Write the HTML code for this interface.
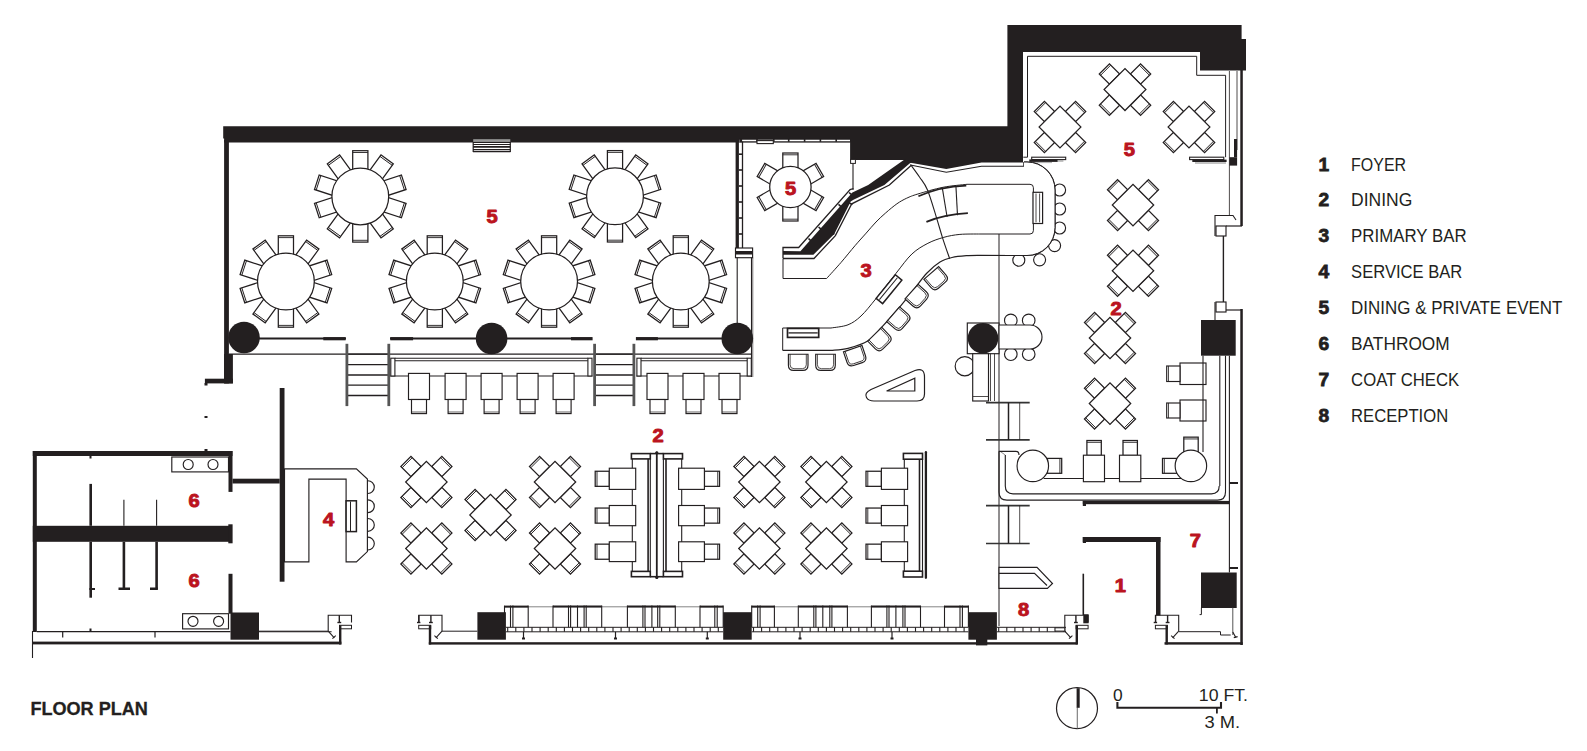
<!DOCTYPE html>
<html><head><meta charset="utf-8"><title>Floor Plan</title>
<style>
html,body{margin:0;padding:0;background:#fff;}
body{width:1587px;height:751px;overflow:hidden;}
svg{display:block;font-family:"Liberation Sans",sans-serif;}
</style></head><body>
<svg width="1587" height="751" viewBox="0 0 1587 751">
<rect x="0" y="0" width="1587" height="751" fill="#fff"/>
<polygon points="223.2,126.2 1007.4,126.2 1007.4,25 1241.6,25 1241.6,39 1246,39 1246,70.6 1200,70.6 1200,52 1023,52 1023,162.5 981.5,162.5 946.3,168.9 910.4,162.8 904.5,159.9 850.1,159.9 850.1,142.6 224.1,142.6 224.1,138.6 223.2,138.6" fill="#231f20"/>
<polyline points="910.4,165 946.3,172.2 981.5,166.3 1023.8,166.3 1023.8,162" fill="none" stroke="#231f20" stroke-width="1.1"/>
<rect x="224.1" y="140" width="4.8" height="243.4" fill="#231f20" />
<rect x="224.1" y="354" width="8.8" height="29.4" fill="#231f20" />
<rect x="204.9" y="378.7" width="28" height="4.7" fill="#231f20" />
<rect x="204.5" y="383" width="3" height="2.5" fill="#231f20" />
<rect x="204.5" y="416" width="3" height="2" fill="#231f20" />
<rect x="204.5" y="449" width="3" height="3" fill="#231f20" />
<polyline points="1023.3,157.2 1027.5,157.2 1027.5,56.3 1196.7,56.3 1196.7,75.3 1225.6,75.3 1225.6,157.2" fill="none" stroke="#231f20" stroke-width="1"/>
<rect x="1240.3" y="70" width="2.5" height="156" fill="#231f20" />
<line x1="1237" y1="71" x2="1237" y2="150" stroke="#231f20" stroke-width="0.8" />
<line x1="1229.4" y1="71" x2="1229.4" y2="215" stroke="#231f20" stroke-width="0.8" />
<rect x="1234" y="139" width="3.1" height="18.2" fill="#231f20" />
<rect x="1229.4" y="157.2" width="7.7" height="8.4" fill="#231f20" />
<polyline points="1215,236 1215,215.5 1233,215.5 1236,220" fill="none" stroke="#231f20" stroke-width="1.1"/>
<polyline points="1226,226 1242,226" fill="none" stroke="#231f20" stroke-width="1.2"/>
<rect x="1216" y="226" width="10" height="10" fill="none" stroke="#231f20" stroke-width="1.15" />
<line x1="1223.4" y1="236" x2="1223.4" y2="302" stroke="#231f20" stroke-width="1.4" />
<rect x="1216" y="302" width="10" height="10" fill="none" stroke="#231f20" stroke-width="1.15" />
<polyline points="1215,302 1215,320" fill="none" stroke="#231f20" stroke-width="1.1"/>
<polyline points="1226,310 1242,310" fill="none" stroke="#231f20" stroke-width="1.2"/>
<rect x="1240.3" y="309" width="2.5" height="336" fill="#231f20" />
<rect x="1031.7" y="157.2" width="34" height="2.4" fill="#fff" stroke="#231f20" stroke-width="1.1" />
<rect x="1029.3" y="159.4" width="28.5" height="2.5" fill="#231f20" />
<line x1="1057" y1="161" x2="1063.4" y2="161" stroke="#888" stroke-width="1" />
<line x1="1031" y1="162.6" x2="1052" y2="162.6" stroke="#999" stroke-width="0.8" />
<rect x="1189.6" y="157.2" width="34.2" height="2.4" fill="#fff" stroke="#231f20" stroke-width="1.1" />
<rect x="1192.3" y="159.6" width="34.3" height="2.4" fill="#231f20" />
<line x1="1195" y1="163" x2="1226" y2="163" stroke="#888" stroke-width="1" />
<rect x="739.4" y="139.4" width="110.6" height="3.2" fill="#fff" />
<rect x="473.2" y="139.2" width="37.1" height="2.7" fill="#999" />
<rect x="473.2" y="142.4" width="37.1" height="9.2" fill="#fff" />
<line x1="473" y1="142.5" x2="510.5" y2="142.5" stroke="#231f20" stroke-width="1.1" />
<line x1="473" y1="144.5" x2="510.5" y2="144.5" stroke="#231f20" stroke-width="1.1" />
<line x1="473" y1="146.9" x2="510.5" y2="146.9" stroke="#231f20" stroke-width="1.6" />
<line x1="473" y1="149.5" x2="510.5" y2="149.5" stroke="#231f20" stroke-width="1.1" />
<line x1="473" y1="151.5" x2="510.5" y2="151.5" stroke="#231f20" stroke-width="1.3" />
<line x1="473.2" y1="142" x2="473.2" y2="152" stroke="#231f20" stroke-width="1.2" />
<line x1="510.3" y1="142" x2="510.3" y2="152" stroke="#231f20" stroke-width="1.2" />
<rect x="735.6" y="141" width="3.3" height="116.7" fill="#231f20" />
<line x1="742.5" y1="141.5" x2="742.5" y2="248" stroke="#231f20" stroke-width="1.3" />
<rect x="738.9" y="153.4" width="3.2" height="1.6" fill="#231f20" />
<rect x="738.9" y="169.2" width="3.2" height="1.6" fill="#231f20" />
<rect x="738.9" y="185.2" width="3.2" height="1.6" fill="#231f20" />
<rect x="738.9" y="201.2" width="3.2" height="1.6" fill="#231f20" />
<rect x="738.9" y="217.2" width="3.2" height="1.6" fill="#231f20" />
<rect x="738.9" y="233.2" width="3.2" height="1.6" fill="#231f20" />
<rect x="735.5" y="248" width="17.1" height="9.7" fill="#fff" stroke="#231f20" stroke-width="1.15" />
<rect x="736" y="251" width="16" height="3.5" fill="#231f20" />
<line x1="737.2" y1="257.7" x2="737.2" y2="325" stroke="#231f20" stroke-width="1.1" />
<line x1="751.5" y1="257.7" x2="751.5" y2="377" stroke="#231f20" stroke-width="1.1" />
<line x1="752.8" y1="257.7" x2="752.8" y2="377" stroke="#231f20" stroke-width="0.6" />
<g transform="translate(360.3,196.4) rotate(0)">
<rect x="-7.6" y="-45.7" width="15.2" height="21.3" fill="#fff" stroke="#231f20" stroke-width="1.25" />
<line x1="-7.6" y1="-43.9" x2="7.6" y2="-43.9" stroke="#231f20" stroke-width="0.9" />
</g>
<g transform="translate(360.3,196.4) rotate(36)">
<rect x="-7.6" y="-45.7" width="15.2" height="21.3" fill="#fff" stroke="#231f20" stroke-width="1.25" />
<line x1="-7.6" y1="-43.9" x2="7.6" y2="-43.9" stroke="#231f20" stroke-width="0.9" />
</g>
<g transform="translate(360.3,196.4) rotate(72)">
<rect x="-7.6" y="-45.7" width="15.2" height="21.3" fill="#fff" stroke="#231f20" stroke-width="1.25" />
<line x1="-7.6" y1="-43.9" x2="7.6" y2="-43.9" stroke="#231f20" stroke-width="0.9" />
</g>
<g transform="translate(360.3,196.4) rotate(108)">
<rect x="-7.6" y="-45.7" width="15.2" height="21.3" fill="#fff" stroke="#231f20" stroke-width="1.25" />
<line x1="-7.6" y1="-43.9" x2="7.6" y2="-43.9" stroke="#231f20" stroke-width="0.9" />
</g>
<g transform="translate(360.3,196.4) rotate(144)">
<rect x="-7.6" y="-45.7" width="15.2" height="21.3" fill="#fff" stroke="#231f20" stroke-width="1.25" />
<line x1="-7.6" y1="-43.9" x2="7.6" y2="-43.9" stroke="#231f20" stroke-width="0.9" />
</g>
<g transform="translate(360.3,196.4) rotate(180)">
<rect x="-7.6" y="-45.7" width="15.2" height="21.3" fill="#fff" stroke="#231f20" stroke-width="1.25" />
<line x1="-7.6" y1="-43.9" x2="7.6" y2="-43.9" stroke="#231f20" stroke-width="0.9" />
</g>
<g transform="translate(360.3,196.4) rotate(216)">
<rect x="-7.6" y="-45.7" width="15.2" height="21.3" fill="#fff" stroke="#231f20" stroke-width="1.25" />
<line x1="-7.6" y1="-43.9" x2="7.6" y2="-43.9" stroke="#231f20" stroke-width="0.9" />
</g>
<g transform="translate(360.3,196.4) rotate(252)">
<rect x="-7.6" y="-45.7" width="15.2" height="21.3" fill="#fff" stroke="#231f20" stroke-width="1.25" />
<line x1="-7.6" y1="-43.9" x2="7.6" y2="-43.9" stroke="#231f20" stroke-width="0.9" />
</g>
<g transform="translate(360.3,196.4) rotate(288)">
<rect x="-7.6" y="-45.7" width="15.2" height="21.3" fill="#fff" stroke="#231f20" stroke-width="1.25" />
<line x1="-7.6" y1="-43.9" x2="7.6" y2="-43.9" stroke="#231f20" stroke-width="0.9" />
</g>
<g transform="translate(360.3,196.4) rotate(324)">
<rect x="-7.6" y="-45.7" width="15.2" height="21.3" fill="#fff" stroke="#231f20" stroke-width="1.25" />
<line x1="-7.6" y1="-43.9" x2="7.6" y2="-43.9" stroke="#231f20" stroke-width="0.9" />
</g>
<circle cx="360.3" cy="196.4" r="28.4" fill="#fff" stroke="#231f20" stroke-width="1.25"/>
<g transform="translate(615,196.3) rotate(0)">
<rect x="-7.6" y="-45.7" width="15.2" height="21.3" fill="#fff" stroke="#231f20" stroke-width="1.25" />
<line x1="-7.6" y1="-43.9" x2="7.6" y2="-43.9" stroke="#231f20" stroke-width="0.9" />
</g>
<g transform="translate(615,196.3) rotate(36)">
<rect x="-7.6" y="-45.7" width="15.2" height="21.3" fill="#fff" stroke="#231f20" stroke-width="1.25" />
<line x1="-7.6" y1="-43.9" x2="7.6" y2="-43.9" stroke="#231f20" stroke-width="0.9" />
</g>
<g transform="translate(615,196.3) rotate(72)">
<rect x="-7.6" y="-45.7" width="15.2" height="21.3" fill="#fff" stroke="#231f20" stroke-width="1.25" />
<line x1="-7.6" y1="-43.9" x2="7.6" y2="-43.9" stroke="#231f20" stroke-width="0.9" />
</g>
<g transform="translate(615,196.3) rotate(108)">
<rect x="-7.6" y="-45.7" width="15.2" height="21.3" fill="#fff" stroke="#231f20" stroke-width="1.25" />
<line x1="-7.6" y1="-43.9" x2="7.6" y2="-43.9" stroke="#231f20" stroke-width="0.9" />
</g>
<g transform="translate(615,196.3) rotate(144)">
<rect x="-7.6" y="-45.7" width="15.2" height="21.3" fill="#fff" stroke="#231f20" stroke-width="1.25" />
<line x1="-7.6" y1="-43.9" x2="7.6" y2="-43.9" stroke="#231f20" stroke-width="0.9" />
</g>
<g transform="translate(615,196.3) rotate(180)">
<rect x="-7.6" y="-45.7" width="15.2" height="21.3" fill="#fff" stroke="#231f20" stroke-width="1.25" />
<line x1="-7.6" y1="-43.9" x2="7.6" y2="-43.9" stroke="#231f20" stroke-width="0.9" />
</g>
<g transform="translate(615,196.3) rotate(216)">
<rect x="-7.6" y="-45.7" width="15.2" height="21.3" fill="#fff" stroke="#231f20" stroke-width="1.25" />
<line x1="-7.6" y1="-43.9" x2="7.6" y2="-43.9" stroke="#231f20" stroke-width="0.9" />
</g>
<g transform="translate(615,196.3) rotate(252)">
<rect x="-7.6" y="-45.7" width="15.2" height="21.3" fill="#fff" stroke="#231f20" stroke-width="1.25" />
<line x1="-7.6" y1="-43.9" x2="7.6" y2="-43.9" stroke="#231f20" stroke-width="0.9" />
</g>
<g transform="translate(615,196.3) rotate(288)">
<rect x="-7.6" y="-45.7" width="15.2" height="21.3" fill="#fff" stroke="#231f20" stroke-width="1.25" />
<line x1="-7.6" y1="-43.9" x2="7.6" y2="-43.9" stroke="#231f20" stroke-width="0.9" />
</g>
<g transform="translate(615,196.3) rotate(324)">
<rect x="-7.6" y="-45.7" width="15.2" height="21.3" fill="#fff" stroke="#231f20" stroke-width="1.25" />
<line x1="-7.6" y1="-43.9" x2="7.6" y2="-43.9" stroke="#231f20" stroke-width="0.9" />
</g>
<circle cx="615" cy="196.3" r="28.4" fill="#fff" stroke="#231f20" stroke-width="1.25"/>
<g transform="translate(285.9,281.5) rotate(0)">
<rect x="-7.6" y="-45.7" width="15.2" height="21.3" fill="#fff" stroke="#231f20" stroke-width="1.25" />
<line x1="-7.6" y1="-43.9" x2="7.6" y2="-43.9" stroke="#231f20" stroke-width="0.9" />
</g>
<g transform="translate(285.9,281.5) rotate(36)">
<rect x="-7.6" y="-45.7" width="15.2" height="21.3" fill="#fff" stroke="#231f20" stroke-width="1.25" />
<line x1="-7.6" y1="-43.9" x2="7.6" y2="-43.9" stroke="#231f20" stroke-width="0.9" />
</g>
<g transform="translate(285.9,281.5) rotate(72)">
<rect x="-7.6" y="-45.7" width="15.2" height="21.3" fill="#fff" stroke="#231f20" stroke-width="1.25" />
<line x1="-7.6" y1="-43.9" x2="7.6" y2="-43.9" stroke="#231f20" stroke-width="0.9" />
</g>
<g transform="translate(285.9,281.5) rotate(108)">
<rect x="-7.6" y="-45.7" width="15.2" height="21.3" fill="#fff" stroke="#231f20" stroke-width="1.25" />
<line x1="-7.6" y1="-43.9" x2="7.6" y2="-43.9" stroke="#231f20" stroke-width="0.9" />
</g>
<g transform="translate(285.9,281.5) rotate(144)">
<rect x="-7.6" y="-45.7" width="15.2" height="21.3" fill="#fff" stroke="#231f20" stroke-width="1.25" />
<line x1="-7.6" y1="-43.9" x2="7.6" y2="-43.9" stroke="#231f20" stroke-width="0.9" />
</g>
<g transform="translate(285.9,281.5) rotate(180)">
<rect x="-7.6" y="-45.7" width="15.2" height="21.3" fill="#fff" stroke="#231f20" stroke-width="1.25" />
<line x1="-7.6" y1="-43.9" x2="7.6" y2="-43.9" stroke="#231f20" stroke-width="0.9" />
</g>
<g transform="translate(285.9,281.5) rotate(216)">
<rect x="-7.6" y="-45.7" width="15.2" height="21.3" fill="#fff" stroke="#231f20" stroke-width="1.25" />
<line x1="-7.6" y1="-43.9" x2="7.6" y2="-43.9" stroke="#231f20" stroke-width="0.9" />
</g>
<g transform="translate(285.9,281.5) rotate(252)">
<rect x="-7.6" y="-45.7" width="15.2" height="21.3" fill="#fff" stroke="#231f20" stroke-width="1.25" />
<line x1="-7.6" y1="-43.9" x2="7.6" y2="-43.9" stroke="#231f20" stroke-width="0.9" />
</g>
<g transform="translate(285.9,281.5) rotate(288)">
<rect x="-7.6" y="-45.7" width="15.2" height="21.3" fill="#fff" stroke="#231f20" stroke-width="1.25" />
<line x1="-7.6" y1="-43.9" x2="7.6" y2="-43.9" stroke="#231f20" stroke-width="0.9" />
</g>
<g transform="translate(285.9,281.5) rotate(324)">
<rect x="-7.6" y="-45.7" width="15.2" height="21.3" fill="#fff" stroke="#231f20" stroke-width="1.25" />
<line x1="-7.6" y1="-43.9" x2="7.6" y2="-43.9" stroke="#231f20" stroke-width="0.9" />
</g>
<circle cx="285.9" cy="281.5" r="28.4" fill="#fff" stroke="#231f20" stroke-width="1.25"/>
<g transform="translate(434.8,281.5) rotate(0)">
<rect x="-7.6" y="-45.7" width="15.2" height="21.3" fill="#fff" stroke="#231f20" stroke-width="1.25" />
<line x1="-7.6" y1="-43.9" x2="7.6" y2="-43.9" stroke="#231f20" stroke-width="0.9" />
</g>
<g transform="translate(434.8,281.5) rotate(36)">
<rect x="-7.6" y="-45.7" width="15.2" height="21.3" fill="#fff" stroke="#231f20" stroke-width="1.25" />
<line x1="-7.6" y1="-43.9" x2="7.6" y2="-43.9" stroke="#231f20" stroke-width="0.9" />
</g>
<g transform="translate(434.8,281.5) rotate(72)">
<rect x="-7.6" y="-45.7" width="15.2" height="21.3" fill="#fff" stroke="#231f20" stroke-width="1.25" />
<line x1="-7.6" y1="-43.9" x2="7.6" y2="-43.9" stroke="#231f20" stroke-width="0.9" />
</g>
<g transform="translate(434.8,281.5) rotate(108)">
<rect x="-7.6" y="-45.7" width="15.2" height="21.3" fill="#fff" stroke="#231f20" stroke-width="1.25" />
<line x1="-7.6" y1="-43.9" x2="7.6" y2="-43.9" stroke="#231f20" stroke-width="0.9" />
</g>
<g transform="translate(434.8,281.5) rotate(144)">
<rect x="-7.6" y="-45.7" width="15.2" height="21.3" fill="#fff" stroke="#231f20" stroke-width="1.25" />
<line x1="-7.6" y1="-43.9" x2="7.6" y2="-43.9" stroke="#231f20" stroke-width="0.9" />
</g>
<g transform="translate(434.8,281.5) rotate(180)">
<rect x="-7.6" y="-45.7" width="15.2" height="21.3" fill="#fff" stroke="#231f20" stroke-width="1.25" />
<line x1="-7.6" y1="-43.9" x2="7.6" y2="-43.9" stroke="#231f20" stroke-width="0.9" />
</g>
<g transform="translate(434.8,281.5) rotate(216)">
<rect x="-7.6" y="-45.7" width="15.2" height="21.3" fill="#fff" stroke="#231f20" stroke-width="1.25" />
<line x1="-7.6" y1="-43.9" x2="7.6" y2="-43.9" stroke="#231f20" stroke-width="0.9" />
</g>
<g transform="translate(434.8,281.5) rotate(252)">
<rect x="-7.6" y="-45.7" width="15.2" height="21.3" fill="#fff" stroke="#231f20" stroke-width="1.25" />
<line x1="-7.6" y1="-43.9" x2="7.6" y2="-43.9" stroke="#231f20" stroke-width="0.9" />
</g>
<g transform="translate(434.8,281.5) rotate(288)">
<rect x="-7.6" y="-45.7" width="15.2" height="21.3" fill="#fff" stroke="#231f20" stroke-width="1.25" />
<line x1="-7.6" y1="-43.9" x2="7.6" y2="-43.9" stroke="#231f20" stroke-width="0.9" />
</g>
<g transform="translate(434.8,281.5) rotate(324)">
<rect x="-7.6" y="-45.7" width="15.2" height="21.3" fill="#fff" stroke="#231f20" stroke-width="1.25" />
<line x1="-7.6" y1="-43.9" x2="7.6" y2="-43.9" stroke="#231f20" stroke-width="0.9" />
</g>
<circle cx="434.8" cy="281.5" r="28.4" fill="#fff" stroke="#231f20" stroke-width="1.25"/>
<g transform="translate(549.1,281.5) rotate(0)">
<rect x="-7.6" y="-45.7" width="15.2" height="21.3" fill="#fff" stroke="#231f20" stroke-width="1.25" />
<line x1="-7.6" y1="-43.9" x2="7.6" y2="-43.9" stroke="#231f20" stroke-width="0.9" />
</g>
<g transform="translate(549.1,281.5) rotate(36)">
<rect x="-7.6" y="-45.7" width="15.2" height="21.3" fill="#fff" stroke="#231f20" stroke-width="1.25" />
<line x1="-7.6" y1="-43.9" x2="7.6" y2="-43.9" stroke="#231f20" stroke-width="0.9" />
</g>
<g transform="translate(549.1,281.5) rotate(72)">
<rect x="-7.6" y="-45.7" width="15.2" height="21.3" fill="#fff" stroke="#231f20" stroke-width="1.25" />
<line x1="-7.6" y1="-43.9" x2="7.6" y2="-43.9" stroke="#231f20" stroke-width="0.9" />
</g>
<g transform="translate(549.1,281.5) rotate(108)">
<rect x="-7.6" y="-45.7" width="15.2" height="21.3" fill="#fff" stroke="#231f20" stroke-width="1.25" />
<line x1="-7.6" y1="-43.9" x2="7.6" y2="-43.9" stroke="#231f20" stroke-width="0.9" />
</g>
<g transform="translate(549.1,281.5) rotate(144)">
<rect x="-7.6" y="-45.7" width="15.2" height="21.3" fill="#fff" stroke="#231f20" stroke-width="1.25" />
<line x1="-7.6" y1="-43.9" x2="7.6" y2="-43.9" stroke="#231f20" stroke-width="0.9" />
</g>
<g transform="translate(549.1,281.5) rotate(180)">
<rect x="-7.6" y="-45.7" width="15.2" height="21.3" fill="#fff" stroke="#231f20" stroke-width="1.25" />
<line x1="-7.6" y1="-43.9" x2="7.6" y2="-43.9" stroke="#231f20" stroke-width="0.9" />
</g>
<g transform="translate(549.1,281.5) rotate(216)">
<rect x="-7.6" y="-45.7" width="15.2" height="21.3" fill="#fff" stroke="#231f20" stroke-width="1.25" />
<line x1="-7.6" y1="-43.9" x2="7.6" y2="-43.9" stroke="#231f20" stroke-width="0.9" />
</g>
<g transform="translate(549.1,281.5) rotate(252)">
<rect x="-7.6" y="-45.7" width="15.2" height="21.3" fill="#fff" stroke="#231f20" stroke-width="1.25" />
<line x1="-7.6" y1="-43.9" x2="7.6" y2="-43.9" stroke="#231f20" stroke-width="0.9" />
</g>
<g transform="translate(549.1,281.5) rotate(288)">
<rect x="-7.6" y="-45.7" width="15.2" height="21.3" fill="#fff" stroke="#231f20" stroke-width="1.25" />
<line x1="-7.6" y1="-43.9" x2="7.6" y2="-43.9" stroke="#231f20" stroke-width="0.9" />
</g>
<g transform="translate(549.1,281.5) rotate(324)">
<rect x="-7.6" y="-45.7" width="15.2" height="21.3" fill="#fff" stroke="#231f20" stroke-width="1.25" />
<line x1="-7.6" y1="-43.9" x2="7.6" y2="-43.9" stroke="#231f20" stroke-width="0.9" />
</g>
<circle cx="549.1" cy="281.5" r="28.4" fill="#fff" stroke="#231f20" stroke-width="1.25"/>
<g transform="translate(680.8,281.5) rotate(0)">
<rect x="-7.6" y="-45.7" width="15.2" height="21.3" fill="#fff" stroke="#231f20" stroke-width="1.25" />
<line x1="-7.6" y1="-43.9" x2="7.6" y2="-43.9" stroke="#231f20" stroke-width="0.9" />
</g>
<g transform="translate(680.8,281.5) rotate(36)">
<rect x="-7.6" y="-45.7" width="15.2" height="21.3" fill="#fff" stroke="#231f20" stroke-width="1.25" />
<line x1="-7.6" y1="-43.9" x2="7.6" y2="-43.9" stroke="#231f20" stroke-width="0.9" />
</g>
<g transform="translate(680.8,281.5) rotate(72)">
<rect x="-7.6" y="-45.7" width="15.2" height="21.3" fill="#fff" stroke="#231f20" stroke-width="1.25" />
<line x1="-7.6" y1="-43.9" x2="7.6" y2="-43.9" stroke="#231f20" stroke-width="0.9" />
</g>
<g transform="translate(680.8,281.5) rotate(108)">
<rect x="-7.6" y="-45.7" width="15.2" height="21.3" fill="#fff" stroke="#231f20" stroke-width="1.25" />
<line x1="-7.6" y1="-43.9" x2="7.6" y2="-43.9" stroke="#231f20" stroke-width="0.9" />
</g>
<g transform="translate(680.8,281.5) rotate(144)">
<rect x="-7.6" y="-45.7" width="15.2" height="21.3" fill="#fff" stroke="#231f20" stroke-width="1.25" />
<line x1="-7.6" y1="-43.9" x2="7.6" y2="-43.9" stroke="#231f20" stroke-width="0.9" />
</g>
<g transform="translate(680.8,281.5) rotate(180)">
<rect x="-7.6" y="-45.7" width="15.2" height="21.3" fill="#fff" stroke="#231f20" stroke-width="1.25" />
<line x1="-7.6" y1="-43.9" x2="7.6" y2="-43.9" stroke="#231f20" stroke-width="0.9" />
</g>
<g transform="translate(680.8,281.5) rotate(216)">
<rect x="-7.6" y="-45.7" width="15.2" height="21.3" fill="#fff" stroke="#231f20" stroke-width="1.25" />
<line x1="-7.6" y1="-43.9" x2="7.6" y2="-43.9" stroke="#231f20" stroke-width="0.9" />
</g>
<g transform="translate(680.8,281.5) rotate(252)">
<rect x="-7.6" y="-45.7" width="15.2" height="21.3" fill="#fff" stroke="#231f20" stroke-width="1.25" />
<line x1="-7.6" y1="-43.9" x2="7.6" y2="-43.9" stroke="#231f20" stroke-width="0.9" />
</g>
<g transform="translate(680.8,281.5) rotate(288)">
<rect x="-7.6" y="-45.7" width="15.2" height="21.3" fill="#fff" stroke="#231f20" stroke-width="1.25" />
<line x1="-7.6" y1="-43.9" x2="7.6" y2="-43.9" stroke="#231f20" stroke-width="0.9" />
</g>
<g transform="translate(680.8,281.5) rotate(324)">
<rect x="-7.6" y="-45.7" width="15.2" height="21.3" fill="#fff" stroke="#231f20" stroke-width="1.25" />
<line x1="-7.6" y1="-43.9" x2="7.6" y2="-43.9" stroke="#231f20" stroke-width="0.9" />
</g>
<circle cx="680.8" cy="281.5" r="28.4" fill="#fff" stroke="#231f20" stroke-width="1.25"/>
<line x1="244" y1="338.6" x2="346" y2="338.6" stroke="#231f20" stroke-width="2" />
<rect x="323.3" y="337.1" width="22.3" height="3.2" fill="#231f20" />
<rect x="390.3" y="337.1" width="22.8" height="3.2" fill="#231f20" />
<line x1="390" y1="338.6" x2="592" y2="338.6" stroke="#231f20" stroke-width="2" />
<line x1="636" y1="338.6" x2="737" y2="338.6" stroke="#231f20" stroke-width="2" />
<rect x="571" y="337.1" width="21.6" height="3.2" fill="#231f20" />
<rect x="635.9" y="337.1" width="22" height="3.2" fill="#231f20" />
<line x1="229" y1="354.1" x2="752" y2="354.1" stroke="#231f20" stroke-width="1.1" />
<circle cx="244" cy="337.5" r="15.8" fill="#231f20"/>
<circle cx="491.6" cy="338.5" r="15.8" fill="#231f20"/>
<circle cx="737.3" cy="338.5" r="15.8" fill="#231f20"/>
<line x1="346.9" y1="354.1" x2="388.8" y2="354.1" stroke="#231f20" stroke-width="1.3" />
<line x1="346.9" y1="364.7" x2="388.8" y2="364.7" stroke="#231f20" stroke-width="1.3" />
<line x1="346.9" y1="375" x2="388.8" y2="375" stroke="#231f20" stroke-width="1.3" />
<line x1="346.9" y1="385.2" x2="388.8" y2="385.2" stroke="#231f20" stroke-width="1.3" />
<line x1="346.9" y1="395.5" x2="388.8" y2="395.5" stroke="#231f20" stroke-width="1.3" />
<line x1="346.9" y1="343.8" x2="346.9" y2="406.1" stroke="#555" stroke-width="2.8" />
<line x1="388.8" y1="343.8" x2="388.8" y2="406.1" stroke="#555" stroke-width="2.8" />
<line x1="594.6" y1="354.1" x2="633.9" y2="354.1" stroke="#231f20" stroke-width="1.3" />
<line x1="594.6" y1="364.7" x2="633.9" y2="364.7" stroke="#231f20" stroke-width="1.3" />
<line x1="594.6" y1="375" x2="633.9" y2="375" stroke="#231f20" stroke-width="1.3" />
<line x1="594.6" y1="385.2" x2="633.9" y2="385.2" stroke="#231f20" stroke-width="1.3" />
<line x1="594.6" y1="395.5" x2="633.9" y2="395.5" stroke="#231f20" stroke-width="1.3" />
<line x1="594.6" y1="343.8" x2="594.6" y2="406.1" stroke="#555" stroke-width="2.8" />
<line x1="633.9" y1="343.8" x2="633.9" y2="406.1" stroke="#555" stroke-width="2.8" />
<line x1="390.3" y1="376" x2="592.5" y2="376" stroke="#231f20" stroke-width="1.1" />
<line x1="394.9" y1="358.2" x2="587.9" y2="358.2" stroke="#231f20" stroke-width="1.1" />
<line x1="394.9" y1="360.8" x2="587.9" y2="360.8" stroke="#231f20" stroke-width="1.1" />
<rect x="390.8" y="358.2" width="4.1" height="17.8" fill="#fff" stroke="#231f20" stroke-width="1.1" />
<rect x="587.9" y="358.2" width="4.1" height="17.8" fill="#fff" stroke="#231f20" stroke-width="1.1" />
<line x1="636.4" y1="376" x2="751.8" y2="376" stroke="#231f20" stroke-width="1.1" />
<line x1="641" y1="358.2" x2="747.2" y2="358.2" stroke="#231f20" stroke-width="1.1" />
<line x1="641" y1="360.8" x2="747.2" y2="360.8" stroke="#231f20" stroke-width="1.1" />
<rect x="636.9" y="358.2" width="4.1" height="17.8" fill="#fff" stroke="#231f20" stroke-width="1.1" />
<rect x="747.2" y="358.2" width="4.1" height="17.8" fill="#fff" stroke="#231f20" stroke-width="1.1" />
<rect x="408.5" y="373.4" width="21" height="26.1" fill="#fff" stroke="#231f20" stroke-width="1.15" />
<rect x="411.5" y="399.5" width="15" height="14.1" fill="#fff" stroke="#231f20" stroke-width="1.15" />
<line x1="411.5" y1="412" x2="426.5" y2="412" stroke="#231f20" stroke-width="0.7" />
<rect x="445.1" y="373.4" width="21" height="26.1" fill="#fff" stroke="#231f20" stroke-width="1.15" />
<rect x="448.1" y="399.5" width="15" height="14.1" fill="#fff" stroke="#231f20" stroke-width="1.15" />
<line x1="448.1" y1="412" x2="463.1" y2="412" stroke="#231f20" stroke-width="0.7" />
<rect x="481.1" y="373.4" width="21" height="26.1" fill="#fff" stroke="#231f20" stroke-width="1.15" />
<rect x="484.1" y="399.5" width="15" height="14.1" fill="#fff" stroke="#231f20" stroke-width="1.15" />
<line x1="484.1" y1="412" x2="499.1" y2="412" stroke="#231f20" stroke-width="0.7" />
<rect x="517.1" y="373.4" width="21" height="26.1" fill="#fff" stroke="#231f20" stroke-width="1.15" />
<rect x="520.1" y="399.5" width="15" height="14.1" fill="#fff" stroke="#231f20" stroke-width="1.15" />
<line x1="520.1" y1="412" x2="535.1" y2="412" stroke="#231f20" stroke-width="0.7" />
<rect x="553.1" y="373.4" width="21" height="26.1" fill="#fff" stroke="#231f20" stroke-width="1.15" />
<rect x="556.1" y="399.5" width="15" height="14.1" fill="#fff" stroke="#231f20" stroke-width="1.15" />
<line x1="556.1" y1="412" x2="571.1" y2="412" stroke="#231f20" stroke-width="0.7" />
<rect x="647" y="373.4" width="21" height="26.1" fill="#fff" stroke="#231f20" stroke-width="1.15" />
<rect x="650" y="399.5" width="15" height="14.1" fill="#fff" stroke="#231f20" stroke-width="1.15" />
<line x1="650" y1="412" x2="665" y2="412" stroke="#231f20" stroke-width="0.7" />
<rect x="683" y="373.4" width="21" height="26.1" fill="#fff" stroke="#231f20" stroke-width="1.15" />
<rect x="686" y="399.5" width="15" height="14.1" fill="#fff" stroke="#231f20" stroke-width="1.15" />
<line x1="686" y1="412" x2="701" y2="412" stroke="#231f20" stroke-width="0.7" />
<rect x="719" y="373.4" width="21" height="26.1" fill="#fff" stroke="#231f20" stroke-width="1.15" />
<rect x="722" y="399.5" width="15" height="14.1" fill="#fff" stroke="#231f20" stroke-width="1.15" />
<line x1="722" y1="412" x2="737" y2="412" stroke="#231f20" stroke-width="0.7" />
<text transform="translate(492.1,223.4) scale(1.15,1)" font-size="17.5" font-weight="bold" fill="#bb1420" text-anchor="middle" stroke="#bb1420" stroke-width="0.9" stroke-linejoin="round">5</text>
<rect x="739.4" y="138.9" width="110.6" height="0.7" fill="#231f20" />
<rect x="739.4" y="138.9" width="2.7" height="3.7" fill="#231f20" />
<line x1="742.1" y1="141.9" x2="850" y2="141.9" stroke="#231f20" stroke-width="1.3" />
<rect x="756.2" y="139" width="1.6" height="2.8" fill="#231f20" />
<rect x="773" y="139" width="1.6" height="2.8" fill="#231f20" />
<rect x="787.9" y="139" width="1.6" height="2.8" fill="#231f20" />
<rect x="803.8" y="139" width="1.6" height="2.8" fill="#231f20" />
<rect x="819.6" y="139" width="1.6" height="2.8" fill="#231f20" />
<rect x="835.4" y="139" width="1.6" height="2.8" fill="#231f20" />
<rect x="757" y="140.6" width="16.3" height="3" fill="#fff" stroke="#231f20" stroke-width="1.1" />
<line x1="853" y1="163.4" x2="853" y2="190" stroke="#231f20" stroke-width="1.1" />
<rect x="850.6" y="159.4" width="4.8" height="4" fill="#fff" stroke="#231f20" stroke-width="1" />
<g transform="translate(790.4,187) rotate(0)">
<rect x="-7.6" y="-34" width="15.2" height="17.3" fill="#fff" stroke="#231f20" stroke-width="1.25" />
<line x1="-7.6" y1="-32.2" x2="7.6" y2="-32.2" stroke="#231f20" stroke-width="0.9" />
</g>
<g transform="translate(790.4,187) rotate(60)">
<rect x="-7.6" y="-34" width="15.2" height="17.3" fill="#fff" stroke="#231f20" stroke-width="1.25" />
<line x1="-7.6" y1="-32.2" x2="7.6" y2="-32.2" stroke="#231f20" stroke-width="0.9" />
</g>
<g transform="translate(790.4,187) rotate(120)">
<rect x="-7.6" y="-34" width="15.2" height="17.3" fill="#fff" stroke="#231f20" stroke-width="1.25" />
<line x1="-7.6" y1="-32.2" x2="7.6" y2="-32.2" stroke="#231f20" stroke-width="0.9" />
</g>
<g transform="translate(790.4,187) rotate(180)">
<rect x="-7.6" y="-34" width="15.2" height="17.3" fill="#fff" stroke="#231f20" stroke-width="1.25" />
<line x1="-7.6" y1="-32.2" x2="7.6" y2="-32.2" stroke="#231f20" stroke-width="0.9" />
</g>
<g transform="translate(790.4,187) rotate(240)">
<rect x="-7.6" y="-34" width="15.2" height="17.3" fill="#fff" stroke="#231f20" stroke-width="1.25" />
<line x1="-7.6" y1="-32.2" x2="7.6" y2="-32.2" stroke="#231f20" stroke-width="0.9" />
</g>
<g transform="translate(790.4,187) rotate(300)">
<rect x="-7.6" y="-34" width="15.2" height="17.3" fill="#fff" stroke="#231f20" stroke-width="1.25" />
<line x1="-7.6" y1="-32.2" x2="7.6" y2="-32.2" stroke="#231f20" stroke-width="0.9" />
</g>
<circle cx="790.4" cy="187" r="20.7" fill="#fff" stroke="#231f20" stroke-width="1.25"/>
<text transform="translate(790.7,195.2) scale(1.15,1)" font-size="17.5" font-weight="bold" fill="#bb1420" text-anchor="middle" stroke="#bb1420" stroke-width="0.9" stroke-linejoin="round">5</text>
<polygon points="783,251 800.4,251.2 852.4,192.4 868.2,185 904.5,159.5 912,162 909.6,163.4 884.4,185 853.5,199.8 850.7,201.5 834.3,234.1 813.4,254.7 783,254.7" fill="#231f20"/>
<polyline points="783,258.5 783,247.5 798.7,247.5 850.1,189.6 853.5,188.5" fill="none" stroke="#231f20" stroke-width="1.3"/>
<polyline points="783,258.5 814,258.5 835.4,235.6 851.8,203.8 889.4,185 911,165.5" fill="none" stroke="#231f20" stroke-width="1.3"/>
<line x1="808.5" y1="238.5" x2="811" y2="240.8" stroke="#231f20" stroke-width="1.6" />
<line x1="818.6" y1="227" x2="821.2" y2="229.3" stroke="#231f20" stroke-width="1.6" />
<line x1="838.5" y1="204.4" x2="841" y2="206.6" stroke="#231f20" stroke-width="1.6" />
<line x1="849" y1="192.5" x2="851.6" y2="194.6" stroke="#231f20" stroke-width="1.6" />
<line x1="831.5" y1="232.5" x2="834.3" y2="234.4" stroke="#231f20" stroke-width="1.6" />
<line x1="849.4" y1="203" x2="852.4" y2="204.6" stroke="#231f20" stroke-width="1.6" />
<circle cx="1059.6" cy="190" r="6" fill="#fff" stroke="#231f20" stroke-width="1.15"/>
<circle cx="1059.6" cy="209" r="6" fill="#fff" stroke="#231f20" stroke-width="1.15"/>
<circle cx="1059.6" cy="228" r="6" fill="#fff" stroke="#231f20" stroke-width="1.15"/>
<circle cx="1054.6" cy="245.6" r="6" fill="#fff" stroke="#231f20" stroke-width="1.15"/>
<circle cx="1039.6" cy="259.8" r="6" fill="#fff" stroke="#231f20" stroke-width="1.15"/>
<circle cx="1018.8" cy="260.2" r="6" fill="#fff" stroke="#231f20" stroke-width="1.15"/>
<path d="M782.7,350.4 L831.3,350.4 C834.08,350.05 841.87,349.92 848,348.3 C854.13,346.68 862.43,344.27 868.1,340.7 C873.77,337.13 877.02,332.18 882,326.9 C886.98,321.62 892.83,315.07 898,309 C903.17,302.93 908.17,296.5 913,290.5 C917.83,284.5 922.5,277.75 927,273 C931.5,268.25 935.83,264.58 940,262 C944.17,259.42 947.58,258.55 952,257.5 C956.42,256.45 961.83,256.05 966.5,255.7 C971.17,255.35 977.75,255.45 980,255.4 L1027,255.5 A28,28 0 0 0 1055,227.5 L1055,190 A28,28 0 0 0 1027,162 L1024,162" fill="none" stroke="#231f20" stroke-width="1.2" />
<path d="M1027,255.5 A28,28 0 0 0 1055,227.5 L1055,190 A28,28 0 0 0 1027,162 L1024,162 L1024,167 L1005,167 L1005,255.5 Z" fill="#fff" />
<path d="M1027,255.5 A28,28 0 0 0 1055,227.5 L1055,190 A28,28 0 0 0 1027,162 L1024,162" fill="none" stroke="#231f20" stroke-width="1" />
<line x1="1000" y1="255.5" x2="1028" y2="255.5" stroke="#231f20" stroke-width="1" />
<path d="M783,259 L783,278.5 L826.6,278.5 C829,275.83 836.27,267.97 841,262.5 C845.73,257.03 850.8,250.6 855,245.7 C859.2,240.8 862.7,237.05 866.2,233.1 C869.7,229.15 872.75,225.37 876,222 C879.25,218.63 882.22,215.93 885.7,212.9 C889.18,209.87 893.4,206.25 896.9,203.8 C900.4,201.35 903.2,199.83 906.7,198.2 C910.2,196.57 911.85,195.82 917.9,194 C923.95,192.18 934.82,188.92 943,187.3 C951.18,185.68 963,184.8 967,184.3 L1030,184.3 Q1033.4,184.3 1033.4,187.7 L1033.4,230.6 Q1033.4,234 1030,234 L979.9,234 C976.57,234.07 965.9,233.85 959.9,234.4 C953.9,234.95 949.23,235.82 943.9,237.3 C938.57,238.78 933.23,240.52 927.9,243.3 C922.57,246.08 917.22,249 911.9,254 C906.58,259 901.98,265.87 896,273.3 C890.02,280.73 881.83,291.48 876,298.6 C870.17,305.72 865.67,311.63 861,316 C856.33,320.37 853,322.8 848,324.8 C843,326.8 833.83,327.47 831,328 L782.7,328 L782.7,350.4" fill="none" stroke="#231f20" stroke-width="1" />
<path d="M910.5,164.5 C912,166.58 916.67,172.75 919.5,177 C922.33,181.25 924.68,183.28 927.5,190 C930.32,196.72 933.87,209.25 936.4,217.3 C938.93,225.35 940.48,231.38 942.7,238.3 C944.92,245.22 948.53,255.38 949.7,258.8" fill="none" stroke="#231f20" stroke-width="1.1" />
<rect x="1033" y="192.3" width="9.6" height="31.2" fill="#fff" stroke="#231f20" stroke-width="1.2" />
<line x1="1036" y1="193.5" x2="1036" y2="222.3" stroke="#231f20" stroke-width="0.8" />
<line x1="1039.6" y1="193.5" x2="1039.6" y2="222.3" stroke="#231f20" stroke-width="0.8" />
<path d="M918.4,196.3 Q940,186.5 966.3,185.6" fill="none" stroke="#231f20" stroke-width="1.8" />
<path d="M926.4,221.9 Q945,214 967.9,213.1" fill="none" stroke="#231f20" stroke-width="1.8" />
<line x1="942.3" y1="187.8" x2="947.1" y2="217" stroke="#231f20" stroke-width="1.1" />
<line x1="955.9" y1="185.8" x2="957.5" y2="215.3" stroke="#231f20" stroke-width="1.1" />
<rect x="787.5" y="328.4" width="31.2" height="9" fill="none" stroke="#231f20" stroke-width="1.7" />
<line x1="788.5" y1="332.9" x2="817.7" y2="332.9" stroke="#231f20" stroke-width="1.3" />
<g transform="translate(889,289.2) rotate(-50.7)">
<rect x="-15.2" y="-4.2" width="30.4" height="8.4" fill="#fff" stroke="#231f20" stroke-width="1.5" />
<line x1="-14.2" y1="-0.8" x2="14.2" y2="-0.8" stroke="#231f20" stroke-width="1" />
</g>
<g transform="translate(798.2,362.2) rotate(0)">
<path d="M-9.8,-8 L9.8,-8 L9.8,3 Q9.8,8.2 4.6,8.2 L-4.6,8.2 Q-9.8,8.2 -9.8,3 Z" fill="#fff" stroke="#231f20" stroke-width="1.15" />
<path d="M-8.1,-8 L-8.1,2.6 Q-8.1,6.5 -4.2,6.5 L4.2,6.5 Q8.1,6.5 8.1,2.6 L8.1,-8" fill="none" stroke="#231f20" stroke-width="0.8" />
</g>
<g transform="translate(825.5,362.2) rotate(0)">
<path d="M-9.8,-8 L9.8,-8 L9.8,3 Q9.8,8.2 4.6,8.2 L-4.6,8.2 Q-9.8,8.2 -9.8,3 Z" fill="#fff" stroke="#231f20" stroke-width="1.15" />
<path d="M-8.1,-8 L-8.1,2.6 Q-8.1,6.5 -4.2,6.5 L4.2,6.5 Q8.1,6.5 8.1,2.6 L8.1,-8" fill="none" stroke="#231f20" stroke-width="0.8" />
</g>
<g transform="translate(855.3,356.3) rotate(-18.7)">
<path d="M-9.8,-8 L9.8,-8 L9.8,3 Q9.8,8.2 4.6,8.2 L-4.6,8.2 Q-9.8,8.2 -9.8,3 Z" fill="#fff" stroke="#231f20" stroke-width="1.15" />
<path d="M-8.1,-8 L-8.1,2.6 Q-8.1,6.5 -4.2,6.5 L4.2,6.5 Q8.1,6.5 8.1,2.6 L8.1,-8" fill="none" stroke="#231f20" stroke-width="0.8" />
</g>
<g transform="translate(880.3,340) rotate(-44)">
<path d="M-9.8,-8 L9.8,-8 L9.8,3 Q9.8,8.2 4.6,8.2 L-4.6,8.2 Q-9.8,8.2 -9.8,3 Z" fill="#fff" stroke="#231f20" stroke-width="1.15" />
<path d="M-8.1,-8 L-8.1,2.6 Q-8.1,6.5 -4.2,6.5 L4.2,6.5 Q8.1,6.5 8.1,2.6 L8.1,-8" fill="none" stroke="#231f20" stroke-width="0.8" />
</g>
<g transform="translate(899.2,319.5) rotate(-49)">
<path d="M-9.8,-8 L9.8,-8 L9.8,3 Q9.8,8.2 4.6,8.2 L-4.6,8.2 Q-9.8,8.2 -9.8,3 Z" fill="#fff" stroke="#231f20" stroke-width="1.15" />
<path d="M-8.1,-8 L-8.1,2.6 Q-8.1,6.5 -4.2,6.5 L4.2,6.5 Q8.1,6.5 8.1,2.6 L8.1,-8" fill="none" stroke="#231f20" stroke-width="0.8" />
</g>
<g transform="translate(917.5,297) rotate(-48)">
<path d="M-9.8,-8 L9.8,-8 L9.8,3 Q9.8,8.2 4.6,8.2 L-4.6,8.2 Q-9.8,8.2 -9.8,3 Z" fill="#fff" stroke="#231f20" stroke-width="1.15" />
<path d="M-8.1,-8 L-8.1,2.6 Q-8.1,6.5 -4.2,6.5 L4.2,6.5 Q8.1,6.5 8.1,2.6 L8.1,-8" fill="none" stroke="#231f20" stroke-width="0.8" />
</g>
<g transform="translate(936.5,279) rotate(-41)">
<path d="M-9.8,-8 L9.8,-8 L9.8,3 Q9.8,8.2 4.6,8.2 L-4.6,8.2 Q-9.8,8.2 -9.8,3 Z" fill="#fff" stroke="#231f20" stroke-width="1.15" />
<path d="M-8.1,-8 L-8.1,2.6 Q-8.1,6.5 -4.2,6.5 L4.2,6.5 Q8.1,6.5 8.1,2.6 L8.1,-8" fill="none" stroke="#231f20" stroke-width="0.8" />
</g>
<text transform="translate(866,277.2) scale(1.15,1)" font-size="17.5" font-weight="bold" fill="#bb1420" text-anchor="middle" stroke="#bb1420" stroke-width="0.9" stroke-linejoin="round">3</text>
<g transform="translate(1125,89.6) rotate(45)">
<g transform="rotate(0)">
<rect x="-7.2" y="-29.2" width="14.4" height="14.42" fill="#fff" stroke="#231f20" stroke-width="1.25" />
<line x1="-7.2" y1="-27.4" x2="7.2" y2="-27.4" stroke="#231f20" stroke-width="0.9" />
</g>
<g transform="rotate(90)">
<rect x="-7.2" y="-29.2" width="14.4" height="14.42" fill="#fff" stroke="#231f20" stroke-width="1.25" />
<line x1="-7.2" y1="-27.4" x2="7.2" y2="-27.4" stroke="#231f20" stroke-width="0.9" />
</g>
<g transform="rotate(180)">
<rect x="-7.2" y="-29.2" width="14.4" height="14.42" fill="#fff" stroke="#231f20" stroke-width="1.25" />
<line x1="-7.2" y1="-27.4" x2="7.2" y2="-27.4" stroke="#231f20" stroke-width="0.9" />
</g>
<g transform="rotate(270)">
<rect x="-7.2" y="-29.2" width="14.4" height="14.42" fill="#fff" stroke="#231f20" stroke-width="1.25" />
<line x1="-7.2" y1="-27.4" x2="7.2" y2="-27.4" stroke="#231f20" stroke-width="0.9" />
</g>
<rect x="-14.78" y="-14.78" width="29.56" height="29.56" fill="#fff" stroke="#231f20" stroke-width="1.25" />
</g>
<g transform="translate(1060,127) rotate(45)">
<g transform="rotate(0)">
<rect x="-7.2" y="-29.2" width="14.4" height="14.42" fill="#fff" stroke="#231f20" stroke-width="1.25" />
<line x1="-7.2" y1="-27.4" x2="7.2" y2="-27.4" stroke="#231f20" stroke-width="0.9" />
</g>
<g transform="rotate(90)">
<rect x="-7.2" y="-29.2" width="14.4" height="14.42" fill="#fff" stroke="#231f20" stroke-width="1.25" />
<line x1="-7.2" y1="-27.4" x2="7.2" y2="-27.4" stroke="#231f20" stroke-width="0.9" />
</g>
<g transform="rotate(180)">
<rect x="-7.2" y="-29.2" width="14.4" height="14.42" fill="#fff" stroke="#231f20" stroke-width="1.25" />
<line x1="-7.2" y1="-27.4" x2="7.2" y2="-27.4" stroke="#231f20" stroke-width="0.9" />
</g>
<g transform="rotate(270)">
<rect x="-7.2" y="-29.2" width="14.4" height="14.42" fill="#fff" stroke="#231f20" stroke-width="1.25" />
<line x1="-7.2" y1="-27.4" x2="7.2" y2="-27.4" stroke="#231f20" stroke-width="0.9" />
</g>
<rect x="-14.78" y="-14.78" width="29.56" height="29.56" fill="#fff" stroke="#231f20" stroke-width="1.25" />
</g>
<g transform="translate(1189,127) rotate(45)">
<g transform="rotate(0)">
<rect x="-7.2" y="-29.2" width="14.4" height="14.42" fill="#fff" stroke="#231f20" stroke-width="1.25" />
<line x1="-7.2" y1="-27.4" x2="7.2" y2="-27.4" stroke="#231f20" stroke-width="0.9" />
</g>
<g transform="rotate(90)">
<rect x="-7.2" y="-29.2" width="14.4" height="14.42" fill="#fff" stroke="#231f20" stroke-width="1.25" />
<line x1="-7.2" y1="-27.4" x2="7.2" y2="-27.4" stroke="#231f20" stroke-width="0.9" />
</g>
<g transform="rotate(180)">
<rect x="-7.2" y="-29.2" width="14.4" height="14.42" fill="#fff" stroke="#231f20" stroke-width="1.25" />
<line x1="-7.2" y1="-27.4" x2="7.2" y2="-27.4" stroke="#231f20" stroke-width="0.9" />
</g>
<g transform="rotate(270)">
<rect x="-7.2" y="-29.2" width="14.4" height="14.42" fill="#fff" stroke="#231f20" stroke-width="1.25" />
<line x1="-7.2" y1="-27.4" x2="7.2" y2="-27.4" stroke="#231f20" stroke-width="0.9" />
</g>
<rect x="-14.78" y="-14.78" width="29.56" height="29.56" fill="#fff" stroke="#231f20" stroke-width="1.25" />
</g>
<text transform="translate(1129.3,156.2) scale(1.15,1)" font-size="17.5" font-weight="bold" fill="#bb1420" text-anchor="middle" stroke="#bb1420" stroke-width="0.9" stroke-linejoin="round">5</text>
<g transform="translate(1133,205.1) rotate(45)">
<g transform="rotate(0)">
<rect x="-7.15" y="-29" width="14.3" height="14.36" fill="#fff" stroke="#231f20" stroke-width="1.25" />
<line x1="-7.15" y1="-27.2" x2="7.15" y2="-27.2" stroke="#231f20" stroke-width="0.9" />
</g>
<g transform="rotate(90)">
<rect x="-7.15" y="-29" width="14.3" height="14.36" fill="#fff" stroke="#231f20" stroke-width="1.25" />
<line x1="-7.15" y1="-27.2" x2="7.15" y2="-27.2" stroke="#231f20" stroke-width="0.9" />
</g>
<g transform="rotate(180)">
<rect x="-7.15" y="-29" width="14.3" height="14.36" fill="#fff" stroke="#231f20" stroke-width="1.25" />
<line x1="-7.15" y1="-27.2" x2="7.15" y2="-27.2" stroke="#231f20" stroke-width="0.9" />
</g>
<g transform="rotate(270)">
<rect x="-7.15" y="-29" width="14.3" height="14.36" fill="#fff" stroke="#231f20" stroke-width="1.25" />
<line x1="-7.15" y1="-27.2" x2="7.15" y2="-27.2" stroke="#231f20" stroke-width="0.9" />
</g>
<rect x="-14.64" y="-14.64" width="29.27" height="29.27" fill="#fff" stroke="#231f20" stroke-width="1.25" />
</g>
<g transform="translate(1133,270.8) rotate(45)">
<g transform="rotate(0)">
<rect x="-7.15" y="-29" width="14.3" height="14.36" fill="#fff" stroke="#231f20" stroke-width="1.25" />
<line x1="-7.15" y1="-27.2" x2="7.15" y2="-27.2" stroke="#231f20" stroke-width="0.9" />
</g>
<g transform="rotate(90)">
<rect x="-7.15" y="-29" width="14.3" height="14.36" fill="#fff" stroke="#231f20" stroke-width="1.25" />
<line x1="-7.15" y1="-27.2" x2="7.15" y2="-27.2" stroke="#231f20" stroke-width="0.9" />
</g>
<g transform="rotate(180)">
<rect x="-7.15" y="-29" width="14.3" height="14.36" fill="#fff" stroke="#231f20" stroke-width="1.25" />
<line x1="-7.15" y1="-27.2" x2="7.15" y2="-27.2" stroke="#231f20" stroke-width="0.9" />
</g>
<g transform="rotate(270)">
<rect x="-7.15" y="-29" width="14.3" height="14.36" fill="#fff" stroke="#231f20" stroke-width="1.25" />
<line x1="-7.15" y1="-27.2" x2="7.15" y2="-27.2" stroke="#231f20" stroke-width="0.9" />
</g>
<rect x="-14.64" y="-14.64" width="29.27" height="29.27" fill="#fff" stroke="#231f20" stroke-width="1.25" />
</g>
<g transform="translate(1110,338) rotate(45)">
<g transform="rotate(0)">
<rect x="-7.15" y="-29" width="14.3" height="14.36" fill="#fff" stroke="#231f20" stroke-width="1.25" />
<line x1="-7.15" y1="-27.2" x2="7.15" y2="-27.2" stroke="#231f20" stroke-width="0.9" />
</g>
<g transform="rotate(90)">
<rect x="-7.15" y="-29" width="14.3" height="14.36" fill="#fff" stroke="#231f20" stroke-width="1.25" />
<line x1="-7.15" y1="-27.2" x2="7.15" y2="-27.2" stroke="#231f20" stroke-width="0.9" />
</g>
<g transform="rotate(180)">
<rect x="-7.15" y="-29" width="14.3" height="14.36" fill="#fff" stroke="#231f20" stroke-width="1.25" />
<line x1="-7.15" y1="-27.2" x2="7.15" y2="-27.2" stroke="#231f20" stroke-width="0.9" />
</g>
<g transform="rotate(270)">
<rect x="-7.15" y="-29" width="14.3" height="14.36" fill="#fff" stroke="#231f20" stroke-width="1.25" />
<line x1="-7.15" y1="-27.2" x2="7.15" y2="-27.2" stroke="#231f20" stroke-width="0.9" />
</g>
<rect x="-14.64" y="-14.64" width="29.27" height="29.27" fill="#fff" stroke="#231f20" stroke-width="1.25" />
</g>
<g transform="translate(1110,403.6) rotate(45)">
<g transform="rotate(0)">
<rect x="-7.15" y="-29" width="14.3" height="14.36" fill="#fff" stroke="#231f20" stroke-width="1.25" />
<line x1="-7.15" y1="-27.2" x2="7.15" y2="-27.2" stroke="#231f20" stroke-width="0.9" />
</g>
<g transform="rotate(90)">
<rect x="-7.15" y="-29" width="14.3" height="14.36" fill="#fff" stroke="#231f20" stroke-width="1.25" />
<line x1="-7.15" y1="-27.2" x2="7.15" y2="-27.2" stroke="#231f20" stroke-width="0.9" />
</g>
<g transform="rotate(180)">
<rect x="-7.15" y="-29" width="14.3" height="14.36" fill="#fff" stroke="#231f20" stroke-width="1.25" />
<line x1="-7.15" y1="-27.2" x2="7.15" y2="-27.2" stroke="#231f20" stroke-width="0.9" />
</g>
<g transform="rotate(270)">
<rect x="-7.15" y="-29" width="14.3" height="14.36" fill="#fff" stroke="#231f20" stroke-width="1.25" />
<line x1="-7.15" y1="-27.2" x2="7.15" y2="-27.2" stroke="#231f20" stroke-width="0.9" />
</g>
<rect x="-14.64" y="-14.64" width="29.27" height="29.27" fill="#fff" stroke="#231f20" stroke-width="1.25" />
</g>
<text transform="translate(1116.1,314.7) scale(1.15,1)" font-size="17.5" font-weight="bold" fill="#bb1420" text-anchor="middle" stroke="#bb1420" stroke-width="0.9" stroke-linejoin="round">2</text>
<line x1="999" y1="234" x2="999" y2="626" stroke="#231f20" stroke-width="1" />
<rect x="967.3" y="323" width="31.7" height="30.7" fill="#fff" stroke="#231f20" stroke-width="1.15" />
<circle cx="983" cy="338.3" r="15.3" fill="#231f20"/>
<circle cx="1010.8" cy="320.4" r="6.3" fill="#fff" stroke="#231f20" stroke-width="1.15"/>
<circle cx="1028.7" cy="320.4" r="6.3" fill="#fff" stroke="#231f20" stroke-width="1.15"/>
<circle cx="1010.8" cy="354.2" r="6.3" fill="#fff" stroke="#231f20" stroke-width="1.15"/>
<circle cx="1028.7" cy="354.2" r="6.3" fill="#fff" stroke="#231f20" stroke-width="1.15"/>
<path d="M999,325 L1030,325 A12,12 0 0 1 1030,349 L999,349 Z" fill="#fff" stroke="#231f20" stroke-width="1.15" />
<circle cx="964.8" cy="366.2" r="9.65" fill="#fff" stroke="#231f20" stroke-width="1.15"/>
<rect x="972.7" y="353.7" width="15.8" height="47.3" fill="#fff" stroke="#231f20" stroke-width="1.15" />
<line x1="973" y1="396.5" x2="988.5" y2="396.5" stroke="#231f20" stroke-width="0.8" />
<line x1="990.5" y1="353.7" x2="990.5" y2="401" stroke="#231f20" stroke-width="0.8" />
<line x1="994.5" y1="353.7" x2="994.5" y2="401" stroke="#231f20" stroke-width="0.8" />
<line x1="986" y1="402.6" x2="1029.7" y2="402.6" stroke="#333" stroke-width="1.6" />
<line x1="986" y1="439.9" x2="1029.7" y2="439.9" stroke="#333" stroke-width="1.6" />
<line x1="1008.5" y1="402.6" x2="1008.5" y2="439.9" stroke="#231f20" stroke-width="1.5" />
<line x1="1019.7" y1="402.6" x2="1019.7" y2="439.9" stroke="#231f20" stroke-width="0.8" />
<line x1="986" y1="505.6" x2="1029.7" y2="505.6" stroke="#333" stroke-width="1.6" />
<line x1="986" y1="543.5" x2="1029.7" y2="543.5" stroke="#333" stroke-width="1.6" />
<line x1="1008.5" y1="505.6" x2="1008.5" y2="543.5" stroke="#231f20" stroke-width="1.5" />
<line x1="1019.7" y1="505.6" x2="1019.7" y2="543.5" stroke="#231f20" stroke-width="0.8" />
<rect x="1201" y="320" width="34.7" height="35.7" fill="#231f20" />
<rect x="1180" y="363" width="26" height="21.5" fill="#fff" stroke="#231f20" stroke-width="1.15" />
<rect x="1166.7" y="366" width="13.3" height="15.5" fill="#fff" stroke="#231f20" stroke-width="1.15" />
<line x1="1168.5" y1="366" x2="1168.5" y2="381.5" stroke="#231f20" stroke-width="0.8" />
<rect x="1180" y="400" width="26" height="21" fill="#fff" stroke="#231f20" stroke-width="1.15" />
<rect x="1166.7" y="403" width="13.3" height="15" fill="#fff" stroke="#231f20" stroke-width="1.15" />
<line x1="1168.5" y1="403" x2="1168.5" y2="418" stroke="#231f20" stroke-width="0.8" />
<line x1="1203" y1="355.7" x2="1203" y2="452" stroke="#231f20" stroke-width="1.1" />
<line x1="1219.8" y1="355.7" x2="1219.8" y2="486" stroke="#231f20" stroke-width="1.1" />
<line x1="1225.5" y1="355.7" x2="1225.5" y2="492" stroke="#231f20" stroke-width="1.1" />
<path d="M999,451.3 L999,492 Q999,500.1 1007,500.1 L1217.5,500.1 Q1225.5,500.1 1225.5,492" fill="none" stroke="#231f20" stroke-width="1.15" />
<path d="M1005.3,455 L1005.3,486 Q1005.3,493.8 1013,493.8 L1211.5,493.8 Q1219.2,493.8 1219.2,486" fill="none" stroke="#231f20" stroke-width="1.15" />
<path d="M999,451.3 L1016,451.3 Q1019,451.3 1019,455" fill="none" stroke="#231f20" stroke-width="1.15" />
<line x1="1000" y1="451.3" x2="1005.3" y2="455" stroke="#231f20" stroke-width="0.5" />
<line x1="1043.6" y1="478.5" x2="1181.4" y2="478.5" stroke="#231f20" stroke-width="1.1" />
<g transform="translate(1054.6,465.85) rotate(90)">
<rect x="-7.45" y="-7.1" width="14.9" height="14.2" fill="#fff" stroke="#231f20" stroke-width="1.25" />
<line x1="-7.45" y1="-5.3" x2="7.45" y2="-5.3" stroke="#231f20" stroke-width="0.9" />
</g>
<g transform="translate(1169.6,465.85) rotate(-90)">
<rect x="-7.45" y="-7.1" width="14.9" height="14.2" fill="#fff" stroke="#231f20" stroke-width="1.25" />
<line x1="-7.45" y1="-5.3" x2="7.45" y2="-5.3" stroke="#231f20" stroke-width="0.9" />
</g>
<g transform="translate(1191,444.8) rotate(0)">
<rect x="-7.2" y="-7.65" width="14.4" height="15.3" fill="#fff" stroke="#231f20" stroke-width="1.25" />
<line x1="-7.2" y1="-5.85" x2="7.2" y2="-5.85" stroke="#231f20" stroke-width="0.9" />
</g>
<g transform="translate(1094.1,448) rotate(0)">
<rect x="-7.2" y="-7.5" width="14.4" height="15" fill="#fff" stroke="#231f20" stroke-width="1.25" />
<line x1="-7.2" y1="-5.7" x2="7.2" y2="-5.7" stroke="#231f20" stroke-width="0.9" />
</g>
<g transform="translate(1130.2,448) rotate(0)">
<rect x="-7.2" y="-7.5" width="14.4" height="15" fill="#fff" stroke="#231f20" stroke-width="1.25" />
<line x1="-7.2" y1="-5.7" x2="7.2" y2="-5.7" stroke="#231f20" stroke-width="0.9" />
</g>
<rect x="1083.4" y="455.2" width="21.1" height="26.5" fill="#fff" stroke="#231f20" stroke-width="1.15" />
<rect x="1119.5" y="455.2" width="21.3" height="26.5" fill="#fff" stroke="#231f20" stroke-width="1.15" />
<circle cx="1032.8" cy="465.9" r="15.75" fill="#fff" stroke="#231f20" stroke-width="1.15"/>
<circle cx="1190.9" cy="465.9" r="15.75" fill="#fff" stroke="#231f20" stroke-width="1.15"/>
<rect x="1082.8" y="500.9" width="146.8" height="3.3" fill="#231f20" />
<rect x="1082.8" y="500.9" width="3.2" height="5.1" fill="#231f20" />
<line x1="1229.4" y1="355.7" x2="1229.4" y2="572.5" stroke="#231f20" stroke-width="1.1" />
<rect x="1229.4" y="482" width="8.6" height="2" fill="#231f20" />
<rect x="1229.4" y="567" width="8.6" height="2" fill="#231f20" />
<rect x="1082.8" y="537" width="77.7" height="5" fill="#231f20" />
<rect x="1082.8" y="537" width="3.2" height="6" fill="#231f20" />
<rect x="1156" y="537" width="4.5" height="78.5" fill="#231f20" />
<line x1="1083.3" y1="573.7" x2="1083.3" y2="615" stroke="#231f20" stroke-width="1.6" />
<rect x="1083.3" y="614.3" width="5.3" height="9" fill="#231f20" />
<rect x="1201" y="572.5" width="35.7" height="35.5" fill="#231f20" />
<polygon points="999,567.4 1037,567.4 1052.5,583.5 1047.4,588.4 999,588.4" fill="#fff" stroke="#231f20" stroke-width="1.15" stroke-linejoin="miter"/>
<polyline points="999,573.4 1034.5,573.4 1047,585.5" fill="none" stroke="#231f20" stroke-width="1.1"/>
<text transform="translate(1195.3,547.1) scale(1.15,1)" font-size="17.5" font-weight="bold" fill="#bb1420" text-anchor="middle" stroke="#bb1420" stroke-width="0.9" stroke-linejoin="round">7</text>
<text transform="translate(1120.3,591.7) scale(1.15,1)" font-size="17.5" font-weight="bold" fill="#bb1420" text-anchor="middle" stroke="#bb1420" stroke-width="0.9" stroke-linejoin="round">1</text>
<text transform="translate(1023.7,616.1) scale(1.15,1)" font-size="17.5" font-weight="bold" fill="#bb1420" text-anchor="middle" stroke="#bb1420" stroke-width="0.9" stroke-linejoin="round">8</text>
<rect x="1164.5" y="642.2" width="78.2" height="2.4" fill="#231f20" />
<polyline points="1178.8,631.7 1220.5,631.7 1220.5,635 1230.7,635" fill="none" stroke="#231f20" stroke-width="1"/>
<line x1="1232.8" y1="607.7" x2="1232.8" y2="635" stroke="#555" stroke-width="1" />
<line x1="1232.8" y1="632" x2="1235.8" y2="637.5" stroke="#231f20" stroke-width="1.1" />
<line x1="1233.8" y1="637.6" x2="1237.6" y2="636.6" stroke="#231f20" stroke-width="1.1" />
<polyline points="1201.4,607.7 1201.4,614.6 1199.6,614.6" fill="none" stroke="#231f20" stroke-width="1"/>
<rect x="428.8" y="642.2" width="648.7" height="2.4" fill="#231f20" />
<rect x="32.8" y="641.6" width="308.6" height="2.8" fill="#231f20" />
<line x1="32.5" y1="631" x2="32.5" y2="658" stroke="#231f20" stroke-width="1.1" />
<rect x="477.4" y="612.2" width="28.5" height="27.5" fill="#231f20" />
<rect x="723.2" y="612.2" width="28.5" height="27.5" fill="#231f20" />
<rect x="968.4" y="612.2" width="28.5" height="27.5" fill="#231f20" />
<rect x="976" y="639" width="11.3" height="6.4" fill="#231f20" />
<rect x="230.5" y="612.5" width="28.5" height="27.2" fill="#231f20" />
<line x1="259" y1="631.7" x2="331.6" y2="631.7" stroke="#231f20" stroke-width="1.1" />
<line x1="505.9" y1="627.3" x2="723.2" y2="627.3" stroke="#231f20" stroke-width="1" />
<line x1="505.9" y1="631.8" x2="723.2" y2="631.8" stroke="#231f20" stroke-width="1" />
<line x1="507.7" y1="627.3" x2="507.7" y2="631.8" stroke="#231f20" stroke-width="1.1" />
<line x1="515.8" y1="627.3" x2="515.8" y2="631.8" stroke="#231f20" stroke-width="1.1" />
<line x1="523.9" y1="627.3" x2="523.9" y2="631.8" stroke="#231f20" stroke-width="1.1" />
<line x1="532" y1="627.3" x2="532" y2="631.8" stroke="#231f20" stroke-width="1.1" />
<line x1="540.1" y1="627.3" x2="540.1" y2="631.8" stroke="#231f20" stroke-width="1.1" />
<line x1="548.2" y1="627.3" x2="548.2" y2="631.8" stroke="#231f20" stroke-width="1.1" />
<line x1="556.3" y1="627.3" x2="556.3" y2="631.8" stroke="#231f20" stroke-width="1.1" />
<line x1="564.4" y1="627.3" x2="564.4" y2="631.8" stroke="#231f20" stroke-width="1.1" />
<line x1="572.5" y1="627.3" x2="572.5" y2="631.8" stroke="#231f20" stroke-width="1.1" />
<line x1="580.6" y1="627.3" x2="580.6" y2="631.8" stroke="#231f20" stroke-width="1.1" />
<line x1="588.7" y1="627.3" x2="588.7" y2="631.8" stroke="#231f20" stroke-width="1.1" />
<line x1="596.8" y1="627.3" x2="596.8" y2="631.8" stroke="#231f20" stroke-width="1.1" />
<line x1="604.9" y1="627.3" x2="604.9" y2="631.8" stroke="#231f20" stroke-width="1.1" />
<line x1="613" y1="627.3" x2="613" y2="631.8" stroke="#231f20" stroke-width="1.1" />
<line x1="621.1" y1="627.3" x2="621.1" y2="631.8" stroke="#231f20" stroke-width="1.1" />
<line x1="629.2" y1="627.3" x2="629.2" y2="631.8" stroke="#231f20" stroke-width="1.1" />
<line x1="637.3" y1="627.3" x2="637.3" y2="631.8" stroke="#231f20" stroke-width="1.1" />
<line x1="645.4" y1="627.3" x2="645.4" y2="631.8" stroke="#231f20" stroke-width="1.1" />
<line x1="653.5" y1="627.3" x2="653.5" y2="631.8" stroke="#231f20" stroke-width="1.1" />
<line x1="661.6" y1="627.3" x2="661.6" y2="631.8" stroke="#231f20" stroke-width="1.1" />
<line x1="669.7" y1="627.3" x2="669.7" y2="631.8" stroke="#231f20" stroke-width="1.1" />
<line x1="677.8" y1="627.3" x2="677.8" y2="631.8" stroke="#231f20" stroke-width="1.1" />
<line x1="685.9" y1="627.3" x2="685.9" y2="631.8" stroke="#231f20" stroke-width="1.1" />
<line x1="694" y1="627.3" x2="694" y2="631.8" stroke="#231f20" stroke-width="1.1" />
<line x1="702.1" y1="627.3" x2="702.1" y2="631.8" stroke="#231f20" stroke-width="1.1" />
<line x1="710.2" y1="627.3" x2="710.2" y2="631.8" stroke="#231f20" stroke-width="1.1" />
<line x1="718.3" y1="627.3" x2="718.3" y2="631.8" stroke="#231f20" stroke-width="1.1" />
<line x1="751.7" y1="627.3" x2="968.4" y2="627.3" stroke="#231f20" stroke-width="1" />
<line x1="751.7" y1="631.8" x2="968.4" y2="631.8" stroke="#231f20" stroke-width="1" />
<line x1="753.5" y1="627.3" x2="753.5" y2="631.8" stroke="#231f20" stroke-width="1.1" />
<line x1="761.6" y1="627.3" x2="761.6" y2="631.8" stroke="#231f20" stroke-width="1.1" />
<line x1="769.7" y1="627.3" x2="769.7" y2="631.8" stroke="#231f20" stroke-width="1.1" />
<line x1="777.8" y1="627.3" x2="777.8" y2="631.8" stroke="#231f20" stroke-width="1.1" />
<line x1="785.9" y1="627.3" x2="785.9" y2="631.8" stroke="#231f20" stroke-width="1.1" />
<line x1="794" y1="627.3" x2="794" y2="631.8" stroke="#231f20" stroke-width="1.1" />
<line x1="802.1" y1="627.3" x2="802.1" y2="631.8" stroke="#231f20" stroke-width="1.1" />
<line x1="810.2" y1="627.3" x2="810.2" y2="631.8" stroke="#231f20" stroke-width="1.1" />
<line x1="818.3" y1="627.3" x2="818.3" y2="631.8" stroke="#231f20" stroke-width="1.1" />
<line x1="826.4" y1="627.3" x2="826.4" y2="631.8" stroke="#231f20" stroke-width="1.1" />
<line x1="834.5" y1="627.3" x2="834.5" y2="631.8" stroke="#231f20" stroke-width="1.1" />
<line x1="842.6" y1="627.3" x2="842.6" y2="631.8" stroke="#231f20" stroke-width="1.1" />
<line x1="850.7" y1="627.3" x2="850.7" y2="631.8" stroke="#231f20" stroke-width="1.1" />
<line x1="858.8" y1="627.3" x2="858.8" y2="631.8" stroke="#231f20" stroke-width="1.1" />
<line x1="866.9" y1="627.3" x2="866.9" y2="631.8" stroke="#231f20" stroke-width="1.1" />
<line x1="875" y1="627.3" x2="875" y2="631.8" stroke="#231f20" stroke-width="1.1" />
<line x1="883.1" y1="627.3" x2="883.1" y2="631.8" stroke="#231f20" stroke-width="1.1" />
<line x1="891.2" y1="627.3" x2="891.2" y2="631.8" stroke="#231f20" stroke-width="1.1" />
<line x1="899.3" y1="627.3" x2="899.3" y2="631.8" stroke="#231f20" stroke-width="1.1" />
<line x1="907.4" y1="627.3" x2="907.4" y2="631.8" stroke="#231f20" stroke-width="1.1" />
<line x1="915.5" y1="627.3" x2="915.5" y2="631.8" stroke="#231f20" stroke-width="1.1" />
<line x1="923.6" y1="627.3" x2="923.6" y2="631.8" stroke="#231f20" stroke-width="1.1" />
<line x1="931.7" y1="627.3" x2="931.7" y2="631.8" stroke="#231f20" stroke-width="1.1" />
<line x1="939.8" y1="627.3" x2="939.8" y2="631.8" stroke="#231f20" stroke-width="1.1" />
<line x1="947.9" y1="627.3" x2="947.9" y2="631.8" stroke="#231f20" stroke-width="1.1" />
<line x1="956" y1="627.3" x2="956" y2="631.8" stroke="#231f20" stroke-width="1.1" />
<line x1="964.1" y1="627.3" x2="964.1" y2="631.8" stroke="#231f20" stroke-width="1.1" />
<line x1="996.9" y1="627.3" x2="1066" y2="627.3" stroke="#231f20" stroke-width="1" />
<line x1="996.9" y1="631.8" x2="1066" y2="631.8" stroke="#231f20" stroke-width="1" />
<line x1="998.7" y1="627.3" x2="998.7" y2="631.8" stroke="#231f20" stroke-width="1.1" />
<line x1="1006.8" y1="627.3" x2="1006.8" y2="631.8" stroke="#231f20" stroke-width="1.1" />
<line x1="1014.9" y1="627.3" x2="1014.9" y2="631.8" stroke="#231f20" stroke-width="1.1" />
<line x1="1023" y1="627.3" x2="1023" y2="631.8" stroke="#231f20" stroke-width="1.1" />
<line x1="1031.1" y1="627.3" x2="1031.1" y2="631.8" stroke="#231f20" stroke-width="1.1" />
<line x1="1039.2" y1="627.3" x2="1039.2" y2="631.8" stroke="#231f20" stroke-width="1.1" />
<line x1="1047.3" y1="627.3" x2="1047.3" y2="631.8" stroke="#231f20" stroke-width="1.1" />
<line x1="1055.4" y1="627.3" x2="1055.4" y2="631.8" stroke="#231f20" stroke-width="1.1" />
<line x1="1063.5" y1="627.3" x2="1063.5" y2="631.8" stroke="#231f20" stroke-width="1.1" />
<line x1="523.5" y1="631.8" x2="523.5" y2="639" stroke="#231f20" stroke-width="1.2" />
<rect x="522" y="637.5" width="3" height="2" fill="#231f20" />
<line x1="615.5" y1="631.8" x2="615.5" y2="639" stroke="#231f20" stroke-width="1.2" />
<rect x="614" y="637.5" width="3" height="2" fill="#231f20" />
<line x1="707.3" y1="631.8" x2="707.3" y2="639" stroke="#231f20" stroke-width="1.2" />
<rect x="705.8" y="637.5" width="3" height="2" fill="#231f20" />
<line x1="800" y1="631.8" x2="800" y2="639" stroke="#231f20" stroke-width="1.2" />
<rect x="798.5" y="637.5" width="3" height="2" fill="#231f20" />
<line x1="892" y1="631.8" x2="892" y2="639" stroke="#231f20" stroke-width="1.2" />
<rect x="890.5" y="637.5" width="3" height="2" fill="#231f20" />
<line x1="505" y1="606.8" x2="723.2" y2="606.8" stroke="#666" stroke-width="0.8" />
<line x1="751.7" y1="606.8" x2="968.4" y2="606.8" stroke="#666" stroke-width="0.8" />
<line x1="504.5" y1="606.6" x2="528.2" y2="606.6" stroke="#231f20" stroke-width="2" />
<line x1="504.5" y1="605.6" x2="504.5" y2="627.3" stroke="#231f20" stroke-width="1.1" />
<line x1="510.5" y1="605.6" x2="510.5" y2="627.3" stroke="#231f20" stroke-width="1.1" />
<line x1="512.9" y1="605.6" x2="512.9" y2="627.3" stroke="#231f20" stroke-width="1.1" />
<line x1="528.2" y1="605.6" x2="528.2" y2="627.3" stroke="#231f20" stroke-width="1.1" />
<line x1="553" y1="606.6" x2="601.7" y2="606.6" stroke="#231f20" stroke-width="2" />
<line x1="553" y1="605.6" x2="553" y2="627.3" stroke="#231f20" stroke-width="1.1" />
<line x1="568.5" y1="605.6" x2="568.5" y2="627.3" stroke="#231f20" stroke-width="1.1" />
<line x1="570.6" y1="605.6" x2="570.6" y2="627.3" stroke="#231f20" stroke-width="1.1" />
<line x1="577.5" y1="605.6" x2="577.5" y2="627.3" stroke="#231f20" stroke-width="1.1" />
<line x1="584.1" y1="605.6" x2="584.1" y2="627.3" stroke="#231f20" stroke-width="1.1" />
<line x1="586.2" y1="605.6" x2="586.2" y2="627.3" stroke="#231f20" stroke-width="1.1" />
<line x1="601.7" y1="605.6" x2="601.7" y2="627.3" stroke="#231f20" stroke-width="1.1" />
<line x1="627.4" y1="606.6" x2="675.3" y2="606.6" stroke="#231f20" stroke-width="2" />
<line x1="627.4" y1="605.6" x2="627.4" y2="627.3" stroke="#231f20" stroke-width="1.1" />
<line x1="642.9" y1="605.6" x2="642.9" y2="627.3" stroke="#231f20" stroke-width="1.1" />
<line x1="645" y1="605.6" x2="645" y2="627.3" stroke="#231f20" stroke-width="1.1" />
<line x1="651.9" y1="605.6" x2="651.9" y2="627.3" stroke="#231f20" stroke-width="1.1" />
<line x1="657.7" y1="605.6" x2="657.7" y2="627.3" stroke="#231f20" stroke-width="1.1" />
<line x1="659.8" y1="605.6" x2="659.8" y2="627.3" stroke="#231f20" stroke-width="1.1" />
<line x1="675.3" y1="605.6" x2="675.3" y2="627.3" stroke="#231f20" stroke-width="1.1" />
<line x1="700" y1="606.6" x2="723.2" y2="606.6" stroke="#231f20" stroke-width="2" />
<line x1="700" y1="605.6" x2="700" y2="627.3" stroke="#231f20" stroke-width="1.1" />
<line x1="714.8" y1="605.6" x2="714.8" y2="627.3" stroke="#231f20" stroke-width="1.1" />
<line x1="717.2" y1="605.6" x2="717.2" y2="627.3" stroke="#231f20" stroke-width="1.1" />
<line x1="723.2" y1="605.6" x2="723.2" y2="627.3" stroke="#231f20" stroke-width="1.1" />
<line x1="751.7" y1="606.6" x2="774.4" y2="606.6" stroke="#231f20" stroke-width="2" />
<line x1="751.7" y1="605.6" x2="751.7" y2="627.3" stroke="#231f20" stroke-width="1.1" />
<line x1="757.7" y1="605.6" x2="757.7" y2="627.3" stroke="#231f20" stroke-width="1.1" />
<line x1="760.1" y1="605.6" x2="760.1" y2="627.3" stroke="#231f20" stroke-width="1.1" />
<line x1="774.4" y1="605.6" x2="774.4" y2="627.3" stroke="#231f20" stroke-width="1.1" />
<line x1="798.3" y1="606.6" x2="847.4" y2="606.6" stroke="#231f20" stroke-width="2" />
<line x1="798.3" y1="605.6" x2="798.3" y2="627.3" stroke="#231f20" stroke-width="1.1" />
<line x1="813.8" y1="605.6" x2="813.8" y2="627.3" stroke="#231f20" stroke-width="1.1" />
<line x1="815.9" y1="605.6" x2="815.9" y2="627.3" stroke="#231f20" stroke-width="1.1" />
<line x1="822.8" y1="605.6" x2="822.8" y2="627.3" stroke="#231f20" stroke-width="1.1" />
<line x1="829.8" y1="605.6" x2="829.8" y2="627.3" stroke="#231f20" stroke-width="1.1" />
<line x1="831.9" y1="605.6" x2="831.9" y2="627.3" stroke="#231f20" stroke-width="1.1" />
<line x1="847.4" y1="605.6" x2="847.4" y2="627.3" stroke="#231f20" stroke-width="1.1" />
<line x1="871.4" y1="606.6" x2="920.5" y2="606.6" stroke="#231f20" stroke-width="2" />
<line x1="871.4" y1="605.6" x2="871.4" y2="627.3" stroke="#231f20" stroke-width="1.1" />
<line x1="886.9" y1="605.6" x2="886.9" y2="627.3" stroke="#231f20" stroke-width="1.1" />
<line x1="889" y1="605.6" x2="889" y2="627.3" stroke="#231f20" stroke-width="1.1" />
<line x1="895.9" y1="605.6" x2="895.9" y2="627.3" stroke="#231f20" stroke-width="1.1" />
<line x1="902.9" y1="605.6" x2="902.9" y2="627.3" stroke="#231f20" stroke-width="1.1" />
<line x1="905" y1="605.6" x2="905" y2="627.3" stroke="#231f20" stroke-width="1.1" />
<line x1="920.5" y1="605.6" x2="920.5" y2="627.3" stroke="#231f20" stroke-width="1.1" />
<line x1="944.5" y1="606.6" x2="968.4" y2="606.6" stroke="#231f20" stroke-width="2" />
<line x1="944.5" y1="605.6" x2="944.5" y2="627.3" stroke="#231f20" stroke-width="1.1" />
<line x1="960" y1="605.6" x2="960" y2="627.3" stroke="#231f20" stroke-width="1.1" />
<line x1="962.4" y1="605.6" x2="962.4" y2="627.3" stroke="#231f20" stroke-width="1.1" />
<line x1="968.4" y1="605.6" x2="968.4" y2="627.3" stroke="#231f20" stroke-width="1.1" />
<rect x="32.8" y="451" width="199.7" height="5" fill="#231f20" />
<rect x="32.8" y="451" width="4" height="181" fill="#231f20" />
<rect x="228.5" y="451" width="4" height="40.9" fill="#231f20" />
<rect x="228.5" y="573.8" width="4" height="39.9" fill="#231f20" />
<rect x="32.8" y="525.8" width="197.2" height="16" fill="#231f20" />
<rect x="228.3" y="524.3" width="4.3" height="19" fill="#231f20" />
<rect x="89.4" y="483.9" width="2.6" height="41.9" fill="#231f20" />
<line x1="123.9" y1="499.8" x2="123.9" y2="525.8" stroke="#231f20" stroke-width="1.1" />
<line x1="156.6" y1="499.8" x2="156.6" y2="525.8" stroke="#231f20" stroke-width="1.1" />
<rect x="89.4" y="541.8" width="2.6" height="55.9" fill="#231f20" />
<rect x="89.4" y="588" width="5.6" height="2" fill="#231f20" />
<rect x="122.6" y="541.8" width="2.6" height="47.2" fill="#231f20" />
<rect x="118.5" y="587.5" width="11.5" height="2.5" fill="#231f20" />
<rect x="155.3" y="541.8" width="2.6" height="47.2" fill="#231f20" />
<rect x="150" y="587.5" width="7.9" height="2.5" fill="#231f20" />
<rect x="171.8" y="457" width="56.7" height="14.9" fill="#fff" stroke="#231f20" stroke-width="1.15" />
<circle cx="188.2" cy="464.5" r="5" fill="#fff" stroke="#231f20" stroke-width="1.15"/>
<circle cx="213" cy="464.5" r="5" fill="#fff" stroke="#231f20" stroke-width="1.15"/>
<rect x="182.6" y="613.7" width="45.9" height="15.2" fill="#fff" stroke="#231f20" stroke-width="1.15" />
<circle cx="193" cy="621.3" r="5" fill="#fff" stroke="#231f20" stroke-width="1.15"/>
<circle cx="218.6" cy="621.3" r="5" fill="#fff" stroke="#231f20" stroke-width="1.15"/>
<line x1="36.8" y1="631.7" x2="230.5" y2="631.7" stroke="#231f20" stroke-width="1.2" />
<line x1="62.7" y1="631.7" x2="62.7" y2="637.5" stroke="#231f20" stroke-width="1.2" />
<line x1="155" y1="631.7" x2="155" y2="637.5" stroke="#231f20" stroke-width="1.2" />
<rect x="89.5" y="455" width="2" height="3.5" fill="#231f20" />
<rect x="89.5" y="628.5" width="2" height="3.5" fill="#231f20" />
<text transform="translate(194.1,507.1) scale(1.15,1)" font-size="17.5" font-weight="bold" fill="#bb1420" text-anchor="middle" stroke="#bb1420" stroke-width="0.9" stroke-linejoin="round">6</text>
<text transform="translate(194.1,587) scale(1.15,1)" font-size="17.5" font-weight="bold" fill="#bb1420" text-anchor="middle" stroke="#bb1420" stroke-width="0.9" stroke-linejoin="round">6</text>
<rect x="279.7" y="388" width="4.8" height="193.7" fill="#231f20" />
<rect x="232.5" y="478.7" width="47.2" height="4.8" fill="#231f20" />
<circle cx="367.9" cy="487.1" r="6.4" fill="#fff" stroke="#231f20" stroke-width="1.15"/>
<circle cx="367.9" cy="506.2" r="6.4" fill="#fff" stroke="#231f20" stroke-width="1.15"/>
<circle cx="367.9" cy="524.9" r="6.4" fill="#fff" stroke="#231f20" stroke-width="1.15"/>
<circle cx="367.9" cy="543.6" r="6.4" fill="#fff" stroke="#231f20" stroke-width="1.15"/>
<polygon points="284.5,468.8 356.4,468.8 367.4,479.1 367.4,551.6 356.4,561.9 346.1,561.9 346.1,479.1 308.9,479.1 308.9,561.9 284.5,561.9" fill="#fff" stroke="#231f20" stroke-width="1.15" stroke-linejoin="miter"/>
<rect x="346.1" y="500.8" width="10.3" height="30.8" fill="#fff" stroke="#231f20" stroke-width="1.5" />
<line x1="350.5" y1="501.5" x2="350.5" y2="531" stroke="#231f20" stroke-width="1" />
<text transform="translate(328.7,526.3) scale(1.15,1)" font-size="17.5" font-weight="bold" fill="#bb1420" text-anchor="middle" stroke="#bb1420" stroke-width="0.9" stroke-linejoin="round">4</text>
<text x="1318.6" y="170.6" font-size="19.2" font-weight="bold" fill="#231f20" text-anchor="start" stroke="#231f20" stroke-width="0.8">1</text>
<text x="1351.1" y="170.6" font-size="18.7" font-weight="normal" fill="#231f20" text-anchor="start" textLength="55.0" lengthAdjust="spacingAndGlyphs">FOYER</text>
<text x="1318.6" y="206.3" font-size="19.2" font-weight="bold" fill="#231f20" text-anchor="start" stroke="#231f20" stroke-width="0.8">2</text>
<text x="1351.1" y="206.3" font-size="18.7" font-weight="normal" fill="#231f20" text-anchor="start" textLength="61.3" lengthAdjust="spacingAndGlyphs">DINING</text>
<text x="1318.6" y="241.9" font-size="19.2" font-weight="bold" fill="#231f20" text-anchor="start" stroke="#231f20" stroke-width="0.8">3</text>
<text x="1351.1" y="241.9" font-size="18.7" font-weight="normal" fill="#231f20" text-anchor="start" textLength="115.5" lengthAdjust="spacingAndGlyphs">PRIMARY BAR</text>
<text x="1318.6" y="278" font-size="19.2" font-weight="bold" fill="#231f20" text-anchor="start" stroke="#231f20" stroke-width="0.8">4</text>
<text x="1351.1" y="278" font-size="18.7" font-weight="normal" fill="#231f20" text-anchor="start" textLength="111.2" lengthAdjust="spacingAndGlyphs">SERVICE BAR</text>
<text x="1318.6" y="313.9" font-size="19.2" font-weight="bold" fill="#231f20" text-anchor="start" stroke="#231f20" stroke-width="0.8">5</text>
<text x="1351.1" y="313.9" font-size="18.7" font-weight="normal" fill="#231f20" text-anchor="start" textLength="211.3" lengthAdjust="spacingAndGlyphs">DINING &amp; PRIVATE EVENT</text>
<text x="1318.6" y="350.2" font-size="19.2" font-weight="bold" fill="#231f20" text-anchor="start" stroke="#231f20" stroke-width="0.8">6</text>
<text x="1351.1" y="350.2" font-size="18.7" font-weight="normal" fill="#231f20" text-anchor="start" textLength="98.6" lengthAdjust="spacingAndGlyphs">BATHROOM</text>
<text x="1318.6" y="386" font-size="19.2" font-weight="bold" fill="#231f20" text-anchor="start" stroke="#231f20" stroke-width="0.8">7</text>
<text x="1351.1" y="386" font-size="18.7" font-weight="normal" fill="#231f20" text-anchor="start" textLength="108.1" lengthAdjust="spacingAndGlyphs">COAT CHECK</text>
<text x="1318.6" y="421.8" font-size="19.2" font-weight="bold" fill="#231f20" text-anchor="start" stroke="#231f20" stroke-width="0.8">8</text>
<text x="1351.1" y="421.8" font-size="18.7" font-weight="normal" fill="#231f20" text-anchor="start" textLength="97.1" lengthAdjust="spacingAndGlyphs">RECEPTION</text>
<text x="30.4" y="715.2" font-size="18.2" font-weight="bold" fill="#231f20" text-anchor="start" textLength="117.5" lengthAdjust="spacingAndGlyphs" stroke="#231f20" stroke-width="0.3">FLOOR PLAN</text>
<circle cx="1077" cy="708.2" r="20.5" fill="none" stroke="#231f20" stroke-width="1.2"/>
<line x1="1077.3" y1="707.5" x2="1077.3" y2="728.6" stroke="#777" stroke-width="1.1" />
<rect x="1076.6" y="688.2" width="3.1" height="19.6" fill="#231f20" />
<polyline points="1117.4,702 1117.4,707.7 1221,707.7 1221,702" fill="none" stroke="#231f20" stroke-width="2.1"/>
<line x1="1216.9" y1="707.7" x2="1216.9" y2="713.4" stroke="#231f20" stroke-width="1.8" />
<text x="1112.9" y="700.6" font-size="17.4" font-weight="normal" fill="#231f20" text-anchor="start" >0</text>
<text x="1198.8" y="700.6" font-size="17.4" font-weight="normal" fill="#231f20" text-anchor="start" textLength="49.2" lengthAdjust="spacingAndGlyphs">10 FT.</text>
<text x="1204.4" y="727.7" font-size="17.4" font-weight="normal" fill="#231f20" text-anchor="start" textLength="35.6" lengthAdjust="spacingAndGlyphs">3 M.</text>
<g transform="translate(426.4,482) rotate(45)">
<g transform="rotate(0)">
<rect x="-7.15" y="-29" width="14.3" height="14.36" fill="#fff" stroke="#231f20" stroke-width="1.25" />
<line x1="-7.15" y1="-27.2" x2="7.15" y2="-27.2" stroke="#231f20" stroke-width="0.9" />
</g>
<g transform="rotate(90)">
<rect x="-7.15" y="-29" width="14.3" height="14.36" fill="#fff" stroke="#231f20" stroke-width="1.25" />
<line x1="-7.15" y1="-27.2" x2="7.15" y2="-27.2" stroke="#231f20" stroke-width="0.9" />
</g>
<g transform="rotate(180)">
<rect x="-7.15" y="-29" width="14.3" height="14.36" fill="#fff" stroke="#231f20" stroke-width="1.25" />
<line x1="-7.15" y1="-27.2" x2="7.15" y2="-27.2" stroke="#231f20" stroke-width="0.9" />
</g>
<g transform="rotate(270)">
<rect x="-7.15" y="-29" width="14.3" height="14.36" fill="#fff" stroke="#231f20" stroke-width="1.25" />
<line x1="-7.15" y1="-27.2" x2="7.15" y2="-27.2" stroke="#231f20" stroke-width="0.9" />
</g>
<rect x="-14.64" y="-14.64" width="29.27" height="29.27" fill="#fff" stroke="#231f20" stroke-width="1.25" />
</g>
<g transform="translate(426.4,548.5) rotate(45)">
<g transform="rotate(0)">
<rect x="-7.15" y="-29" width="14.3" height="14.36" fill="#fff" stroke="#231f20" stroke-width="1.25" />
<line x1="-7.15" y1="-27.2" x2="7.15" y2="-27.2" stroke="#231f20" stroke-width="0.9" />
</g>
<g transform="rotate(90)">
<rect x="-7.15" y="-29" width="14.3" height="14.36" fill="#fff" stroke="#231f20" stroke-width="1.25" />
<line x1="-7.15" y1="-27.2" x2="7.15" y2="-27.2" stroke="#231f20" stroke-width="0.9" />
</g>
<g transform="rotate(180)">
<rect x="-7.15" y="-29" width="14.3" height="14.36" fill="#fff" stroke="#231f20" stroke-width="1.25" />
<line x1="-7.15" y1="-27.2" x2="7.15" y2="-27.2" stroke="#231f20" stroke-width="0.9" />
</g>
<g transform="rotate(270)">
<rect x="-7.15" y="-29" width="14.3" height="14.36" fill="#fff" stroke="#231f20" stroke-width="1.25" />
<line x1="-7.15" y1="-27.2" x2="7.15" y2="-27.2" stroke="#231f20" stroke-width="0.9" />
</g>
<rect x="-14.64" y="-14.64" width="29.27" height="29.27" fill="#fff" stroke="#231f20" stroke-width="1.25" />
</g>
<g transform="translate(490.5,515) rotate(45)">
<g transform="rotate(0)">
<rect x="-7.15" y="-29" width="14.3" height="14.36" fill="#fff" stroke="#231f20" stroke-width="1.25" />
<line x1="-7.15" y1="-27.2" x2="7.15" y2="-27.2" stroke="#231f20" stroke-width="0.9" />
</g>
<g transform="rotate(90)">
<rect x="-7.15" y="-29" width="14.3" height="14.36" fill="#fff" stroke="#231f20" stroke-width="1.25" />
<line x1="-7.15" y1="-27.2" x2="7.15" y2="-27.2" stroke="#231f20" stroke-width="0.9" />
</g>
<g transform="rotate(180)">
<rect x="-7.15" y="-29" width="14.3" height="14.36" fill="#fff" stroke="#231f20" stroke-width="1.25" />
<line x1="-7.15" y1="-27.2" x2="7.15" y2="-27.2" stroke="#231f20" stroke-width="0.9" />
</g>
<g transform="rotate(270)">
<rect x="-7.15" y="-29" width="14.3" height="14.36" fill="#fff" stroke="#231f20" stroke-width="1.25" />
<line x1="-7.15" y1="-27.2" x2="7.15" y2="-27.2" stroke="#231f20" stroke-width="0.9" />
</g>
<rect x="-14.64" y="-14.64" width="29.27" height="29.27" fill="#fff" stroke="#231f20" stroke-width="1.25" />
</g>
<g transform="translate(555,482) rotate(45)">
<g transform="rotate(0)">
<rect x="-7.15" y="-29" width="14.3" height="14.36" fill="#fff" stroke="#231f20" stroke-width="1.25" />
<line x1="-7.15" y1="-27.2" x2="7.15" y2="-27.2" stroke="#231f20" stroke-width="0.9" />
</g>
<g transform="rotate(90)">
<rect x="-7.15" y="-29" width="14.3" height="14.36" fill="#fff" stroke="#231f20" stroke-width="1.25" />
<line x1="-7.15" y1="-27.2" x2="7.15" y2="-27.2" stroke="#231f20" stroke-width="0.9" />
</g>
<g transform="rotate(180)">
<rect x="-7.15" y="-29" width="14.3" height="14.36" fill="#fff" stroke="#231f20" stroke-width="1.25" />
<line x1="-7.15" y1="-27.2" x2="7.15" y2="-27.2" stroke="#231f20" stroke-width="0.9" />
</g>
<g transform="rotate(270)">
<rect x="-7.15" y="-29" width="14.3" height="14.36" fill="#fff" stroke="#231f20" stroke-width="1.25" />
<line x1="-7.15" y1="-27.2" x2="7.15" y2="-27.2" stroke="#231f20" stroke-width="0.9" />
</g>
<rect x="-14.64" y="-14.64" width="29.27" height="29.27" fill="#fff" stroke="#231f20" stroke-width="1.25" />
</g>
<g transform="translate(555,548.5) rotate(45)">
<g transform="rotate(0)">
<rect x="-7.15" y="-29" width="14.3" height="14.36" fill="#fff" stroke="#231f20" stroke-width="1.25" />
<line x1="-7.15" y1="-27.2" x2="7.15" y2="-27.2" stroke="#231f20" stroke-width="0.9" />
</g>
<g transform="rotate(90)">
<rect x="-7.15" y="-29" width="14.3" height="14.36" fill="#fff" stroke="#231f20" stroke-width="1.25" />
<line x1="-7.15" y1="-27.2" x2="7.15" y2="-27.2" stroke="#231f20" stroke-width="0.9" />
</g>
<g transform="rotate(180)">
<rect x="-7.15" y="-29" width="14.3" height="14.36" fill="#fff" stroke="#231f20" stroke-width="1.25" />
<line x1="-7.15" y1="-27.2" x2="7.15" y2="-27.2" stroke="#231f20" stroke-width="0.9" />
</g>
<g transform="rotate(270)">
<rect x="-7.15" y="-29" width="14.3" height="14.36" fill="#fff" stroke="#231f20" stroke-width="1.25" />
<line x1="-7.15" y1="-27.2" x2="7.15" y2="-27.2" stroke="#231f20" stroke-width="0.9" />
</g>
<rect x="-14.64" y="-14.64" width="29.27" height="29.27" fill="#fff" stroke="#231f20" stroke-width="1.25" />
</g>
<g transform="translate(759.4,482) rotate(45)">
<g transform="rotate(0)">
<rect x="-7.15" y="-29" width="14.3" height="14.36" fill="#fff" stroke="#231f20" stroke-width="1.25" />
<line x1="-7.15" y1="-27.2" x2="7.15" y2="-27.2" stroke="#231f20" stroke-width="0.9" />
</g>
<g transform="rotate(90)">
<rect x="-7.15" y="-29" width="14.3" height="14.36" fill="#fff" stroke="#231f20" stroke-width="1.25" />
<line x1="-7.15" y1="-27.2" x2="7.15" y2="-27.2" stroke="#231f20" stroke-width="0.9" />
</g>
<g transform="rotate(180)">
<rect x="-7.15" y="-29" width="14.3" height="14.36" fill="#fff" stroke="#231f20" stroke-width="1.25" />
<line x1="-7.15" y1="-27.2" x2="7.15" y2="-27.2" stroke="#231f20" stroke-width="0.9" />
</g>
<g transform="rotate(270)">
<rect x="-7.15" y="-29" width="14.3" height="14.36" fill="#fff" stroke="#231f20" stroke-width="1.25" />
<line x1="-7.15" y1="-27.2" x2="7.15" y2="-27.2" stroke="#231f20" stroke-width="0.9" />
</g>
<rect x="-14.64" y="-14.64" width="29.27" height="29.27" fill="#fff" stroke="#231f20" stroke-width="1.25" />
</g>
<g transform="translate(759.4,548.5) rotate(45)">
<g transform="rotate(0)">
<rect x="-7.15" y="-29" width="14.3" height="14.36" fill="#fff" stroke="#231f20" stroke-width="1.25" />
<line x1="-7.15" y1="-27.2" x2="7.15" y2="-27.2" stroke="#231f20" stroke-width="0.9" />
</g>
<g transform="rotate(90)">
<rect x="-7.15" y="-29" width="14.3" height="14.36" fill="#fff" stroke="#231f20" stroke-width="1.25" />
<line x1="-7.15" y1="-27.2" x2="7.15" y2="-27.2" stroke="#231f20" stroke-width="0.9" />
</g>
<g transform="rotate(180)">
<rect x="-7.15" y="-29" width="14.3" height="14.36" fill="#fff" stroke="#231f20" stroke-width="1.25" />
<line x1="-7.15" y1="-27.2" x2="7.15" y2="-27.2" stroke="#231f20" stroke-width="0.9" />
</g>
<g transform="rotate(270)">
<rect x="-7.15" y="-29" width="14.3" height="14.36" fill="#fff" stroke="#231f20" stroke-width="1.25" />
<line x1="-7.15" y1="-27.2" x2="7.15" y2="-27.2" stroke="#231f20" stroke-width="0.9" />
</g>
<rect x="-14.64" y="-14.64" width="29.27" height="29.27" fill="#fff" stroke="#231f20" stroke-width="1.25" />
</g>
<g transform="translate(826.4,482) rotate(45)">
<g transform="rotate(0)">
<rect x="-7.15" y="-29" width="14.3" height="14.36" fill="#fff" stroke="#231f20" stroke-width="1.25" />
<line x1="-7.15" y1="-27.2" x2="7.15" y2="-27.2" stroke="#231f20" stroke-width="0.9" />
</g>
<g transform="rotate(90)">
<rect x="-7.15" y="-29" width="14.3" height="14.36" fill="#fff" stroke="#231f20" stroke-width="1.25" />
<line x1="-7.15" y1="-27.2" x2="7.15" y2="-27.2" stroke="#231f20" stroke-width="0.9" />
</g>
<g transform="rotate(180)">
<rect x="-7.15" y="-29" width="14.3" height="14.36" fill="#fff" stroke="#231f20" stroke-width="1.25" />
<line x1="-7.15" y1="-27.2" x2="7.15" y2="-27.2" stroke="#231f20" stroke-width="0.9" />
</g>
<g transform="rotate(270)">
<rect x="-7.15" y="-29" width="14.3" height="14.36" fill="#fff" stroke="#231f20" stroke-width="1.25" />
<line x1="-7.15" y1="-27.2" x2="7.15" y2="-27.2" stroke="#231f20" stroke-width="0.9" />
</g>
<rect x="-14.64" y="-14.64" width="29.27" height="29.27" fill="#fff" stroke="#231f20" stroke-width="1.25" />
</g>
<g transform="translate(826.4,548.5) rotate(45)">
<g transform="rotate(0)">
<rect x="-7.15" y="-29" width="14.3" height="14.36" fill="#fff" stroke="#231f20" stroke-width="1.25" />
<line x1="-7.15" y1="-27.2" x2="7.15" y2="-27.2" stroke="#231f20" stroke-width="0.9" />
</g>
<g transform="rotate(90)">
<rect x="-7.15" y="-29" width="14.3" height="14.36" fill="#fff" stroke="#231f20" stroke-width="1.25" />
<line x1="-7.15" y1="-27.2" x2="7.15" y2="-27.2" stroke="#231f20" stroke-width="0.9" />
</g>
<g transform="rotate(180)">
<rect x="-7.15" y="-29" width="14.3" height="14.36" fill="#fff" stroke="#231f20" stroke-width="1.25" />
<line x1="-7.15" y1="-27.2" x2="7.15" y2="-27.2" stroke="#231f20" stroke-width="0.9" />
</g>
<g transform="rotate(270)">
<rect x="-7.15" y="-29" width="14.3" height="14.36" fill="#fff" stroke="#231f20" stroke-width="1.25" />
<line x1="-7.15" y1="-27.2" x2="7.15" y2="-27.2" stroke="#231f20" stroke-width="0.9" />
</g>
<rect x="-14.64" y="-14.64" width="29.27" height="29.27" fill="#fff" stroke="#231f20" stroke-width="1.25" />
</g>
<text transform="translate(658.2,441.5) scale(1.15,1)" font-size="17.5" font-weight="bold" fill="#bb1420" text-anchor="middle" stroke="#bb1420" stroke-width="0.9" stroke-linejoin="round">2</text>
<rect x="632.5" y="453.7" width="50" height="123" fill="#fff" />
<rect x="631.4" y="453.6" width="18.9" height="5.3" fill="#fff" stroke="#231f20" stroke-width="1.6" />
<rect x="663.4" y="453.6" width="19.1" height="5.3" fill="#fff" stroke="#231f20" stroke-width="1.6" />
<line x1="650.3" y1="453.6" x2="663.4" y2="453.6" stroke="#231f20" stroke-width="1.6" />
<rect x="631.4" y="571.4" width="18.9" height="5.3" fill="#fff" stroke="#231f20" stroke-width="1.6" />
<rect x="663.4" y="571.4" width="19.1" height="5.3" fill="#fff" stroke="#231f20" stroke-width="1.6" />
<line x1="650.3" y1="576.7" x2="663.4" y2="576.7" stroke="#231f20" stroke-width="1.6" />
<line x1="632.3" y1="458.9" x2="632.3" y2="571.4" stroke="#231f20" stroke-width="1.1" />
<line x1="648.1" y1="458.9" x2="648.1" y2="571.4" stroke="#231f20" stroke-width="1.6" />
<line x1="650.3" y1="458.9" x2="650.3" y2="571.4" stroke="#231f20" stroke-width="1.1" />
<line x1="663.4" y1="458.9" x2="663.4" y2="571.4" stroke="#231f20" stroke-width="1.1" />
<line x1="666" y1="458.9" x2="666" y2="571.4" stroke="#231f20" stroke-width="1.6" />
<line x1="681.7" y1="458.9" x2="681.7" y2="571.4" stroke="#231f20" stroke-width="1.1" />
<line x1="656.8" y1="452.3" x2="656.8" y2="578" stroke="#231f20" stroke-width="1.8" stroke-linecap="round"/>
<circle cx="656.8" cy="452.8" r="1.6" fill="#231f20"/>
<circle cx="656.8" cy="577.4" r="1.6" fill="#231f20"/>
<g transform="translate(602.25,478.8) rotate(-90)">
<rect x="-7.55" y="-7.05" width="15.1" height="14.1" fill="#fff" stroke="#231f20" stroke-width="1.25" />
<line x1="-7.55" y1="-5.25" x2="7.55" y2="-5.25" stroke="#231f20" stroke-width="0.9" />
</g>
<g transform="translate(712,478.8) rotate(90)">
<rect x="-7.55" y="-7.55" width="15.1" height="15.1" fill="#fff" stroke="#231f20" stroke-width="1.25" />
<line x1="-7.55" y1="-5.75" x2="7.55" y2="-5.75" stroke="#231f20" stroke-width="0.9" />
</g>
<rect x="609.3" y="468.2" width="26.4" height="21.2" fill="#fff" stroke="#231f20" stroke-width="1.15" />
<rect x="678.6" y="468.2" width="25.8" height="21.2" fill="#fff" stroke="#231f20" stroke-width="1.15" />
<g transform="translate(602.25,515.6) rotate(-90)">
<rect x="-7.55" y="-7.05" width="15.1" height="14.1" fill="#fff" stroke="#231f20" stroke-width="1.25" />
<line x1="-7.55" y1="-5.25" x2="7.55" y2="-5.25" stroke="#231f20" stroke-width="0.9" />
</g>
<g transform="translate(712,515.6) rotate(90)">
<rect x="-7.55" y="-7.55" width="15.1" height="15.1" fill="#fff" stroke="#231f20" stroke-width="1.25" />
<line x1="-7.55" y1="-5.75" x2="7.55" y2="-5.75" stroke="#231f20" stroke-width="0.9" />
</g>
<rect x="609.3" y="505.5" width="26.4" height="20.2" fill="#fff" stroke="#231f20" stroke-width="1.15" />
<rect x="678.6" y="505.5" width="25.8" height="20.2" fill="#fff" stroke="#231f20" stroke-width="1.15" />
<g transform="translate(602.25,551.7) rotate(-90)">
<rect x="-7.55" y="-7.05" width="15.1" height="14.1" fill="#fff" stroke="#231f20" stroke-width="1.25" />
<line x1="-7.55" y1="-5.25" x2="7.55" y2="-5.25" stroke="#231f20" stroke-width="0.9" />
</g>
<g transform="translate(712,551.7) rotate(90)">
<rect x="-7.55" y="-7.55" width="15.1" height="15.1" fill="#fff" stroke="#231f20" stroke-width="1.25" />
<line x1="-7.55" y1="-5.75" x2="7.55" y2="-5.75" stroke="#231f20" stroke-width="0.9" />
</g>
<rect x="609.3" y="541.8" width="26.4" height="19.8" fill="#fff" stroke="#231f20" stroke-width="1.15" />
<rect x="678.6" y="541.8" width="25.8" height="19.8" fill="#fff" stroke="#231f20" stroke-width="1.15" />
<rect x="903.4" y="453.4" width="19.1" height="5.8" fill="#fff" stroke="#231f20" stroke-width="1.6" />
<rect x="903.4" y="571.2" width="19.1" height="5.8" fill="#fff" stroke="#231f20" stroke-width="1.6" />
<line x1="904.3" y1="459.2" x2="904.3" y2="571.2" stroke="#231f20" stroke-width="1.1" />
<line x1="919.5" y1="459.2" x2="919.5" y2="571.2" stroke="#231f20" stroke-width="1.6" />
<line x1="922.5" y1="459.2" x2="922.5" y2="571.2" stroke="#231f20" stroke-width="1.1" />
<line x1="925.9" y1="452.2" x2="925.9" y2="577.8" stroke="#231f20" stroke-width="2.3" stroke-linecap="round"/>
<g transform="translate(873.7,478.8) rotate(-90)">
<rect x="-7.55" y="-7.7" width="15.1" height="15.4" fill="#fff" stroke="#231f20" stroke-width="1.25" />
<line x1="-7.55" y1="-5.9" x2="7.55" y2="-5.9" stroke="#231f20" stroke-width="0.9" />
</g>
<rect x="881.4" y="468.2" width="26.2" height="21.2" fill="#fff" stroke="#231f20" stroke-width="1.15" />
<g transform="translate(873.7,515.6) rotate(-90)">
<rect x="-7.55" y="-7.7" width="15.1" height="15.4" fill="#fff" stroke="#231f20" stroke-width="1.25" />
<line x1="-7.55" y1="-5.9" x2="7.55" y2="-5.9" stroke="#231f20" stroke-width="0.9" />
</g>
<rect x="881.4" y="505.5" width="26.2" height="20.2" fill="#fff" stroke="#231f20" stroke-width="1.15" />
<g transform="translate(873.7,551.7) rotate(-90)">
<rect x="-7.55" y="-7.7" width="15.1" height="15.4" fill="#fff" stroke="#231f20" stroke-width="1.25" />
<line x1="-7.55" y1="-5.9" x2="7.55" y2="-5.9" stroke="#231f20" stroke-width="0.9" />
</g>
<rect x="881.4" y="541.8" width="26.2" height="19.8" fill="#fff" stroke="#231f20" stroke-width="1.15" />
<polyline points="328.2,631.2 328.2,615.2 351.5,615.2 351.5,622.6" fill="none" stroke="#231f20" stroke-width="1.1"/>
<rect x="338.6" y="615.2" width="1.4" height="7.4" fill="#231f20" />
<rect x="337.4" y="621.8" width="3.8" height="1.4" fill="#231f20" />
<rect x="339.5" y="625.3" width="12" height="3.5" fill="#fff" stroke="#231f20" stroke-width="1" />
<rect x="339" y="625.3" width="2.4" height="19.2" fill="#231f20" />
<line x1="328.2" y1="631.2" x2="334.3" y2="637.8" stroke="#231f20" stroke-width="1.1" />
<line x1="332.4" y1="638.6" x2="335.8" y2="635.6" stroke="#231f20" stroke-width="1.1" />
<line x1="259" y1="631.2" x2="328.2" y2="631.2" stroke="#231f20" stroke-width="1" />
<polyline points="442,631.2 442,615.2 418.7,615.2 418.7,622.6" fill="none" stroke="#231f20" stroke-width="1.1"/>
<rect x="430.2" y="615.2" width="1.4" height="7.4" fill="#231f20" />
<rect x="429" y="621.8" width="3.8" height="1.4" fill="#231f20" />
<rect x="418.3" y="615.2" width="1.3" height="7.4" fill="#231f20" />
<rect x="417" y="621.8" width="3.4" height="1.4" fill="#231f20" />
<rect x="418.7" y="625.3" width="12" height="3.5" fill="#fff" stroke="#231f20" stroke-width="1" />
<rect x="428.8" y="625.3" width="2.4" height="19.2" fill="#231f20" />
<line x1="442" y1="631.2" x2="435.9" y2="637.8" stroke="#231f20" stroke-width="1.1" />
<line x1="437.8" y1="638.6" x2="434.4" y2="635.6" stroke="#231f20" stroke-width="1.1" />
<line x1="442" y1="631.2" x2="477.4" y2="631.2" stroke="#231f20" stroke-width="1" />
<polyline points="1064.8,631.2 1064.8,615.2 1088.1,615.2 1088.1,622.6" fill="none" stroke="#231f20" stroke-width="1.1"/>
<rect x="1075.2" y="615.2" width="1.4" height="7.4" fill="#231f20" />
<rect x="1074" y="621.8" width="3.8" height="1.4" fill="#231f20" />
<rect x="1076.1" y="625.3" width="12" height="3.5" fill="#fff" stroke="#231f20" stroke-width="1" />
<rect x="1075.6" y="625.3" width="2.4" height="19.2" fill="#231f20" />
<line x1="1064.8" y1="631.2" x2="1070.9" y2="637.8" stroke="#231f20" stroke-width="1.1" />
<line x1="1069" y1="638.6" x2="1072.4" y2="635.6" stroke="#231f20" stroke-width="1.1" />
<rect x="1055" y="627.8" width="9.8" height="3.3" fill="#fff" stroke="#231f20" stroke-width="1" />
<polyline points="1178.7,631.2 1178.7,615.2 1155.4,615.2 1155.4,622.6" fill="none" stroke="#231f20" stroke-width="1.1"/>
<rect x="1166.9" y="615.2" width="1.4" height="7.4" fill="#231f20" />
<rect x="1165.7" y="621.8" width="3.8" height="1.4" fill="#231f20" />
<rect x="1155" y="615.2" width="1.3" height="7.4" fill="#231f20" />
<rect x="1153.7" y="621.8" width="3.4" height="1.4" fill="#231f20" />
<rect x="1155.4" y="625.3" width="12" height="3.5" fill="#fff" stroke="#231f20" stroke-width="1" />
<rect x="1165.5" y="625.3" width="2.4" height="19.2" fill="#231f20" />
<line x1="1178.7" y1="631.2" x2="1172.6" y2="637.8" stroke="#231f20" stroke-width="1.1" />
<line x1="1174.5" y1="638.6" x2="1171.1" y2="635.6" stroke="#231f20" stroke-width="1.1" />
<path d="M874,401 L917,401 Q924.5,401 924.5,394 L924.5,377 Q924.5,367 915,370.5 L871,389.5 Q864,393 866.5,397.5 Q868.5,401 874,401 Z" fill="none" stroke="#231f20" stroke-width="1.2" />
<path d="M886.6,391 L914.8,378.2 L914.8,391 Z" fill="none" stroke="#231f20" stroke-width="1.2" />
</svg>
</body></html>
